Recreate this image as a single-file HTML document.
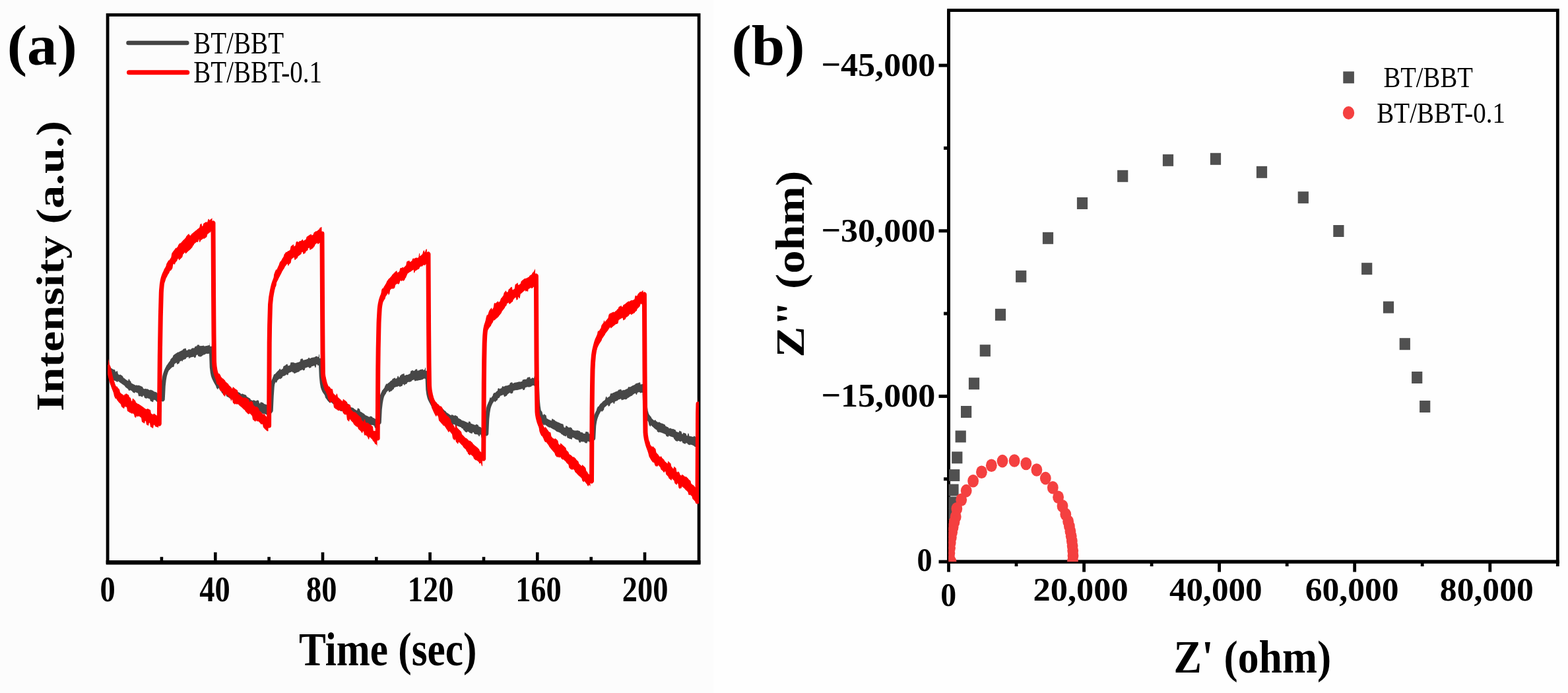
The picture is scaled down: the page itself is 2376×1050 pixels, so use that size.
<!DOCTYPE html>
<html><head><meta charset="utf-8"><title>Figure</title>
<style>html,body{margin:0;padding:0;background:#fff;} svg{display:block;} text{font-family:"Liberation Serif", "Times New Roman", serif;}</style>
</head><body>
<svg width="2376" height="1050" viewBox="0 0 2376 1050">
<rect x="0" y="0" width="2376" height="1050" fill="#fefefe"/>
<rect x="0" y="0" width="1081" height="1050" fill="#fcfcfc"/>
<rect x="163.1" y="22.6" width="896.0" height="829.2" fill="none" stroke="#000" stroke-width="4.8"/>
<line x1="160.7" y1="852.1999999999999" x2="1061.5" y2="852.1999999999999" stroke="#000" stroke-width="6.6"/>
<line x1="244.9" y1="851.8" x2="244.9" y2="843.8" stroke="#000" stroke-width="4.6"/>
<line x1="326.3" y1="851.8" x2="326.3" y2="836.8" stroke="#000" stroke-width="4.6"/>
<line x1="407.6" y1="851.8" x2="407.6" y2="843.8" stroke="#000" stroke-width="4.6"/>
<line x1="489.0" y1="851.8" x2="489.0" y2="836.8" stroke="#000" stroke-width="4.6"/>
<line x1="570.3" y1="851.8" x2="570.3" y2="843.8" stroke="#000" stroke-width="4.6"/>
<line x1="651.6" y1="851.8" x2="651.6" y2="836.8" stroke="#000" stroke-width="4.6"/>
<line x1="733.0" y1="851.8" x2="733.0" y2="843.8" stroke="#000" stroke-width="4.6"/>
<line x1="814.3" y1="851.8" x2="814.3" y2="836.8" stroke="#000" stroke-width="4.6"/>
<line x1="895.7" y1="851.8" x2="895.7" y2="843.8" stroke="#000" stroke-width="4.6"/>
<line x1="977.0" y1="851.8" x2="977.0" y2="836.8" stroke="#000" stroke-width="4.6"/>
<defs><clipPath id="ca"><rect x="163.1" y="22.6" width="896.0" height="829.2"/></clipPath></defs>
<g clip-path="url(#ca)">
<g fill="#474747" stroke="none"><polygon points="164.0,553.8 165.0,554.4 166.0,555.0 167.0,555.6 168.0,557.5 169.0,558.1 170.0,558.7 171.0,559.3 172.0,559.9 173.0,559.7 174.0,560.3 175.0,562.9 176.0,563.5 177.0,561.7 178.0,562.4 179.0,566.8 180.0,567.5 181.0,568.2 182.0,567.2 183.0,567.9 184.0,568.6 185.0,569.3 186.0,570.0 187.0,572.2 188.0,572.9 189.0,573.6 190.0,574.5 191.0,575.2 192.0,575.9 193.0,576.6 194.0,577.3 195.0,574.0 196.0,574.7 197.0,576.9 198.0,577.5 199.0,580.3 200.0,580.9 201.0,581.4 202.0,581.9 203.0,582.4 204.0,582.9 205.0,583.4 206.0,583.9 207.0,583.3 208.0,583.7 209.0,584.2 210.0,583.5 211.0,584.0 212.0,584.4 213.0,584.8 214.0,585.2 215.0,585.7 216.0,586.1 217.0,588.5 218.0,589.0 219.0,589.4 220.0,588.7 221.0,589.1 222.0,589.6 223.0,589.2 224.0,589.6 225.0,590.3 226.0,590.8 227.0,591.2 228.0,590.4 229.0,590.8 230.0,591.2 231.0,591.5 232.0,591.9 233.0,593.1 234.0,593.4 235.0,593.7 236.0,594.0 237.0,594.3 238.0,595.6 239.0,595.8 240.0,596.1 241.0,596.4 242.0,596.6 243.0,595.0 244.0,595.2 245.0,595.5 245.0,612.4 244.0,612.1 243.0,610.6 242.0,610.4 241.0,609.5 240.0,609.3 239.0,609.0 238.0,608.7 237.0,608.5 236.0,606.7 235.0,606.4 234.0,606.1 233.0,605.8 232.0,609.2 231.0,608.9 230.0,608.5 229.0,608.1 228.0,607.7 227.0,604.6 226.0,604.2 225.0,603.8 224.0,603.4 223.0,602.9 222.0,604.1 221.0,603.6 220.0,603.2 219.0,602.7 218.0,599.7 217.0,599.3 216.0,601.6 215.0,601.2 214.0,600.8 213.0,600.3 212.0,599.9 211.0,600.5 210.0,600.1 209.0,595.8 208.0,595.3 207.0,594.9 206.0,594.4 205.0,593.9 204.0,595.7 203.0,595.3 202.0,594.7 201.0,594.2 200.0,592.6 199.0,592.0 198.0,591.5 197.0,590.9 196.0,592.2 195.0,591.6 194.0,589.4 193.0,588.7 192.0,588.0 191.0,587.3 190.0,586.6 189.0,584.7 188.0,584.0 187.0,583.3 186.0,582.5 185.0,581.9 184.0,581.1 183.0,580.4 182.0,579.7 181.0,579.0 180.0,578.2 179.0,577.5 178.0,579.0 177.0,578.4 176.0,577.8 175.0,577.2 174.0,577.1 173.0,576.5 172.0,575.9 171.0,575.3 170.0,573.9 169.0,573.3 168.0,572.7 167.0,572.1 166.0,569.6 165.0,569.0 164.0,568.4"/><polygon points="246.5,596.8 247.5,576.8 248.5,567.5 249.5,563.3 250.5,559.4 251.5,556.5 252.5,554.1 252.9,553.3 253.5,553.4 254.5,551.5 255.5,549.8 256.5,548.3 257.5,547.0 258.5,544.3 258.6,544.2 259.5,543.3 260.5,542.3 261.5,541.4 262.5,538.5 263.5,537.7 264.3,537.1 264.5,537.0 265.5,536.3 266.5,535.6 267.5,534.9 268.5,534.3 269.5,533.6 270.5,533.7 271.5,533.1 272.5,532.5 273.5,532.0 274.5,531.6 275.5,531.1 275.7,531.0 276.5,530.6 277.5,529.0 278.5,528.6 279.5,528.2 280.5,527.9 281.5,527.5 282.5,531.0 283.5,530.7 284.5,530.4 285.5,529.4 286.5,529.1 287.0,529.0 287.5,529.8 288.5,529.5 289.5,529.2 290.5,527.8 291.5,527.6 292.5,527.3 293.5,527.5 294.5,527.3 295.5,525.0 296.5,524.8 297.5,524.6 298.5,524.3 298.6,522.8 299.5,522.6 300.5,522.4 301.5,522.3 302.5,524.3 303.5,524.1 304.5,524.2 305.5,524.1 306.5,523.9 307.5,523.7 308.5,523.5 309.5,524.6 310.0,524.5 310.5,524.4 311.5,524.2 312.5,524.0 313.5,523.9 314.5,523.6 315.5,523.4 316.5,523.1 317.5,522.9 318.0,518.7 318.0,535.8 317.5,535.9 316.5,535.7 315.5,536.0 314.5,536.3 313.5,535.7 312.5,536.0 311.5,536.2 310.5,537.2 310.0,537.3 309.5,537.4 308.5,537.6 307.5,538.5 306.5,538.7 305.5,540.1 304.5,540.3 303.5,540.4 302.5,540.6 301.5,539.8 300.5,540.0 299.5,537.5 298.6,537.6 298.5,537.7 297.5,537.9 296.5,541.6 295.5,541.9 294.5,542.1 293.5,540.5 292.5,540.7 291.5,541.0 290.5,541.1 289.5,541.4 288.5,541.7 287.5,542.0 287.0,543.3 286.5,543.4 285.5,540.8 284.5,541.1 283.5,541.5 282.5,541.8 281.5,543.9 280.5,544.2 279.5,544.6 278.5,544.9 277.5,545.3 276.5,547.4 275.7,547.7 275.5,546.2 274.5,546.7 273.5,547.2 272.5,547.7 271.5,550.4 270.5,551.0 269.5,551.6 268.5,552.3 267.5,549.4 266.5,550.1 265.5,550.8 264.5,551.5 264.3,551.7 263.5,555.4 262.5,556.2 261.5,555.9 260.5,556.8 259.5,557.7 258.6,558.7 258.5,558.5 257.5,559.7 256.5,561.0 255.5,560.2 254.5,561.9 253.5,566.4 252.9,567.6 252.5,568.5 251.5,570.9 250.5,571.9 249.5,575.7 248.5,581.4 247.5,590.7 246.5,610.7"/><polygon points="320.0,519.5 321.0,547.5 322.0,555.9 323.0,560.7 324.0,563.8 325.0,566.0 326.0,567.7 327.0,569.4 328.0,573.2 329.0,574.5 330.0,575.7 331.0,576.0 331.4,576.4 332.0,577.0 333.0,577.9 334.0,578.7 335.0,576.8 336.0,577.6 337.0,580.6 338.0,581.3 339.0,582.0 340.0,582.7 341.0,582.3 342.0,583.0 343.0,583.6 344.0,585.2 345.0,585.8 346.0,586.4 347.0,587.0 348.0,585.3 349.0,585.9 350.0,586.5 350.5,586.8 351.0,590.9 352.0,591.5 353.0,592.1 354.0,592.7 355.0,592.6 356.0,593.1 357.0,593.2 358.0,593.7 359.0,594.2 360.0,593.5 361.0,594.0 362.0,594.5 363.0,595.0 364.0,595.5 365.0,596.7 366.0,597.2 367.0,596.2 368.0,596.7 369.0,597.2 369.5,597.5 370.0,597.6 371.0,598.1 372.0,598.2 373.0,598.7 374.0,601.1 375.0,601.6 376.0,602.1 377.0,602.8 378.0,603.2 379.0,603.7 380.0,605.7 381.0,606.2 382.0,606.6 383.0,607.1 384.0,605.9 385.0,606.4 386.0,606.8 387.0,607.3 388.0,607.7 388.6,606.8 389.0,607.0 390.0,606.2 391.0,606.6 392.0,607.0 393.0,611.1 394.0,611.5 395.0,609.0 396.0,609.4 397.0,609.7 398.0,610.1 399.0,610.5 400.0,611.8 401.0,612.2 402.0,612.6 403.0,612.8 404.0,613.3 405.0,613.8 405.7,614.1 406.0,614.3 407.0,617.1 408.0,617.7 409.0,618.3 409.0,632.1 408.0,630.6 407.0,630.0 406.0,629.4 405.7,629.2 405.0,628.9 404.0,628.4 403.0,627.9 402.0,627.5 401.0,627.1 400.0,626.7 399.0,627.1 398.0,626.7 397.0,626.3 396.0,624.9 395.0,624.5 394.0,625.5 393.0,625.1 392.0,623.6 391.0,623.2 390.0,620.8 389.0,620.4 388.6,620.2 388.0,619.9 387.0,620.4 386.0,619.9 385.0,622.3 384.0,621.8 383.0,620.9 382.0,620.5 381.0,620.0 380.0,619.5 379.0,619.1 378.0,618.1 377.0,617.7 376.0,617.2 375.0,616.7 374.0,615.7 373.0,615.2 372.0,615.0 371.0,614.5 370.0,614.0 369.5,613.7 369.0,613.5 368.0,611.0 367.0,610.5 366.0,610.0 365.0,611.4 364.0,610.9 363.0,610.4 362.0,611.1 361.0,610.6 360.0,608.6 359.0,608.0 358.0,607.5 357.0,608.3 356.0,607.8 355.0,607.2 354.0,606.7 353.0,606.1 352.0,605.8 351.0,605.2 350.5,604.9 350.0,604.7 349.0,604.1 348.0,603.5 347.0,602.6 346.0,602.1 345.0,601.5 344.0,600.9 343.0,600.3 342.0,597.1 341.0,596.5 340.0,595.9 339.0,595.2 338.0,596.7 337.0,596.0 336.0,595.3 335.0,592.4 334.0,591.6 333.0,590.7 332.0,588.7 331.4,588.1 331.0,587.7 330.0,590.2 329.0,589.0 328.0,587.7 327.0,584.5 326.0,582.9 325.0,581.1 324.0,579.3 323.0,576.3 322.0,569.5 321.0,561.1 320.0,533.1"/><polygon points="410.5,612.9 411.5,590.9 412.5,576.7 413.0,572.9 413.5,571.6 414.5,568.8 415.5,566.7 416.5,567.0 417.5,565.8 418.5,564.7 419.0,564.1 419.5,563.5 420.5,562.5 421.5,561.6 422.5,560.8 423.5,559.1 424.5,558.4 425.5,560.4 426.5,559.8 426.7,559.7 427.5,559.2 428.5,558.7 429.5,555.0 430.5,554.5 431.5,554.0 432.5,553.5 433.5,552.3 434.5,551.9 435.5,551.5 436.5,554.6 437.5,554.1 438.5,553.7 439.5,553.3 440.5,549.3 441.5,548.9 442.0,548.7 442.5,549.5 443.5,549.1 444.5,548.8 445.5,550.0 446.5,549.6 447.5,550.3 448.5,549.9 449.5,549.6 450.5,549.3 451.5,549.0 452.5,548.7 453.5,548.3 454.5,548.0 455.5,544.1 456.5,543.8 457.0,543.6 457.5,543.5 458.5,543.2 459.5,545.8 460.5,545.5 461.5,545.2 462.5,545.0 463.5,544.7 464.5,544.4 465.5,544.1 466.5,543.8 467.5,542.0 468.5,541.7 469.5,543.2 470.5,542.9 471.5,542.2 472.0,542.1 472.5,541.9 473.5,541.7 474.5,541.4 475.5,541.4 476.5,541.2 477.5,540.4 478.5,540.1 479.5,539.9 480.5,539.6 481.5,541.1 482.5,540.9 483.5,536.8 484.0,536.7 484.0,555.1 483.5,553.4 482.5,553.6 481.5,553.9 480.5,551.9 479.5,552.2 478.5,556.7 477.5,557.0 476.5,554.1 475.5,554.3 474.5,554.6 473.5,554.9 472.5,555.1 472.0,555.3 471.5,556.9 470.5,557.2 469.5,557.4 468.5,557.7 467.5,556.0 466.5,556.3 465.5,556.6 464.5,557.1 463.5,557.3 462.5,557.6 461.5,560.9 460.5,561.1 459.5,561.4 458.5,559.9 457.5,560.2 457.0,560.7 456.5,560.9 455.5,561.2 454.5,561.5 453.5,563.1 452.5,563.4 451.5,563.8 450.5,564.1 449.5,564.4 448.5,565.0 447.5,565.4 446.5,565.7 445.5,566.1 444.5,564.1 443.5,564.4 442.5,563.1 442.0,563.3 441.5,563.5 440.5,563.9 439.5,564.3 438.5,564.7 437.5,565.1 436.5,568.0 435.5,568.4 434.5,567.2 433.5,567.7 432.5,568.8 431.5,569.3 430.5,569.8 429.5,569.7 428.5,570.2 427.5,572.6 426.7,573.1 426.5,573.2 425.5,573.8 424.5,574.4 423.5,573.8 422.5,574.6 421.5,575.4 420.5,576.2 419.5,579.1 419.0,579.6 418.5,580.1 417.5,578.8 416.5,580.0 415.5,581.6 414.5,582.6 413.5,585.4 413.0,587.2 412.5,590.9 411.5,605.4 410.5,627.4"/><polygon points="486.0,538.1 487.0,562.1 488.0,572.5 489.0,578.1 490.0,581.1 491.0,583.4 492.0,585.2 493.0,585.3 494.0,586.5 495.0,587.7 496.0,588.9 497.0,590.1 498.0,592.4 499.0,593.4 500.0,594.3 501.0,595.2 502.0,597.6 503.0,598.4 504.0,599.2 505.0,599.7 506.0,600.4 507.0,601.2 508.0,599.3 509.0,600.0 510.0,600.7 511.0,601.3 512.0,606.2 513.0,606.9 514.0,607.5 515.0,606.2 516.0,606.8 517.0,607.3 518.0,607.9 519.0,609.9 520.0,610.5 521.0,607.5 522.0,608.0 523.0,608.5 524.0,609.1 525.0,609.6 526.0,611.3 527.0,611.8 528.0,612.3 529.0,612.8 530.0,615.8 531.0,616.3 532.0,616.9 533.0,617.4 534.0,617.5 535.0,618.0 536.0,618.6 537.0,619.8 538.0,620.3 539.0,620.9 540.0,621.4 541.0,621.9 542.0,618.3 543.0,618.8 544.0,619.3 545.0,619.9 546.0,623.6 546.7,623.9 547.0,624.1 548.0,624.6 549.0,625.3 550.0,625.9 551.0,626.4 552.0,627.0 553.0,628.5 554.0,629.1 555.0,629.7 556.0,629.8 557.0,630.4 558.0,630.9 559.0,631.4 560.0,631.8 561.0,630.4 562.0,630.8 563.0,631.1 564.0,631.5 565.0,632.9 566.0,633.2 567.0,633.5 568.0,634.5 569.0,634.7 570.0,634.8 571.0,635.1 572.0,634.3 572.0,646.3 571.0,649.1 570.0,648.8 569.0,648.5 568.0,648.2 567.0,644.9 566.0,644.6 565.0,644.3 564.0,644.0 563.0,643.7 562.0,645.2 561.0,644.8 560.0,644.4 559.0,643.9 558.0,643.4 557.0,641.7 556.0,641.2 555.0,640.7 554.0,642.3 553.0,641.7 552.0,641.2 551.0,641.1 550.0,640.5 549.0,637.4 548.0,636.8 547.0,636.3 546.7,636.1 546.0,635.7 545.0,637.4 544.0,636.8 543.0,635.9 542.0,635.4 541.0,635.2 540.0,634.7 539.0,632.9 538.0,632.3 537.0,632.0 536.0,631.4 535.0,630.9 534.0,630.9 533.0,630.4 532.0,630.8 531.0,630.2 530.0,629.7 529.0,629.1 528.0,628.6 527.0,628.6 526.0,628.1 525.0,627.6 524.0,627.1 523.0,623.0 522.0,622.5 521.0,621.7 520.0,621.2 519.0,620.7 518.0,623.4 517.0,622.9 516.0,622.7 515.0,622.1 514.0,621.5 513.0,620.2 512.0,619.5 511.0,618.9 510.0,618.2 509.0,617.5 508.0,613.8 507.0,613.1 506.0,612.4 505.0,612.2 504.0,611.4 503.0,610.6 502.0,609.8 501.0,608.9 500.0,610.7 499.0,609.8 498.0,608.8 497.0,607.7 496.0,606.6 495.0,604.9 494.0,603.7 493.0,602.4 492.0,598.4 491.0,596.6 490.0,594.3 489.0,592.3 488.0,586.7 487.0,576.3 486.0,552.3"/><polygon points="574.5,633.5 575.5,613.5 576.5,605.1 577.5,597.9 578.5,593.8 579.0,592.3 579.5,590.9 580.5,591.3 581.5,589.4 582.5,587.8 583.5,584.4 584.5,583.2 584.8,582.0 585.5,581.2 586.5,582.0 587.5,581.1 588.5,580.3 589.5,579.5 590.5,578.8 591.5,577.4 592.5,576.8 593.5,576.2 594.0,576.0 594.5,574.3 595.5,573.8 596.5,573.3 597.5,572.8 598.5,572.3 599.5,573.9 600.5,573.5 601.5,573.0 602.5,569.9 603.5,569.5 604.5,571.9 605.5,571.6 606.5,568.8 607.5,568.5 608.5,567.3 609.5,567.0 610.5,566.6 611.5,566.2 612.5,565.8 613.0,569.1 613.5,568.9 614.5,568.5 615.5,568.1 616.5,567.7 617.5,567.9 618.5,567.5 619.5,567.1 620.5,566.4 621.5,566.0 622.5,562.0 623.5,561.7 624.5,561.3 625.5,560.9 626.5,562.1 627.5,561.8 628.5,561.4 629.5,559.8 630.5,559.5 631.5,559.2 632.0,559.1 632.5,561.8 633.5,561.6 634.5,561.3 635.5,561.1 636.5,560.1 637.5,559.9 638.5,559.7 639.5,559.5 640.5,559.3 641.5,560.8 642.5,560.5 643.5,560.3 644.5,557.1 645.0,557.0 645.0,574.1 644.5,574.2 643.5,573.5 642.5,573.7 641.5,573.9 640.5,575.0 639.5,575.2 638.5,575.4 637.5,575.7 636.5,575.9 635.5,576.0 634.5,576.2 633.5,576.5 632.5,576.8 632.0,576.9 631.5,576.6 630.5,576.9 629.5,577.2 628.5,577.5 627.5,575.2 626.5,575.6 625.5,575.9 624.5,576.3 623.5,577.8 622.5,578.2 621.5,578.5 620.5,578.9 619.5,578.5 618.5,578.9 617.5,579.3 616.5,581.4 615.5,581.8 614.5,582.2 613.5,582.6 613.0,583.7 612.5,583.9 611.5,581.8 610.5,582.2 609.5,584.7 608.5,585.0 607.5,585.4 606.5,585.8 605.5,586.2 604.5,584.8 603.5,585.2 602.5,585.7 601.5,586.1 600.5,585.9 599.5,586.4 598.5,586.8 597.5,587.3 596.5,589.8 595.5,590.3 594.5,590.9 594.0,592.1 593.5,592.4 592.5,592.6 591.5,593.2 590.5,593.8 589.5,594.5 588.5,591.6 587.5,592.4 586.5,593.3 585.5,594.3 584.8,596.4 584.5,596.7 583.5,597.9 582.5,599.2 581.5,600.8 580.5,603.2 579.5,605.5 579.0,606.8 578.5,607.8 577.5,611.9 576.5,617.9 575.5,626.3 574.5,646.3"/><polygon points="647.5,558.0 648.5,583.0 649.5,590.4 650.5,594.6 651.0,596.0 651.5,596.5 652.5,598.7 653.5,600.5 654.5,602.7 655.5,604.0 656.5,605.2 657.0,605.9 657.5,607.9 658.5,609.1 659.5,610.2 660.5,610.6 661.5,611.6 662.5,612.6 663.5,613.6 664.5,614.5 665.5,615.8 666.5,616.7 667.5,617.5 668.5,618.3 669.5,618.4 670.5,619.2 671.5,620.0 672.5,620.7 673.5,621.9 674.5,622.6 675.5,623.3 676.5,624.8 677.5,625.5 678.5,626.1 679.5,626.8 680.5,627.4 681.5,628.2 682.5,628.8 683.5,629.4 684.5,627.9 685.5,628.4 686.5,629.0 687.5,629.5 688.5,630.1 689.5,629.0 690.5,629.5 691.5,630.0 692.5,630.5 693.5,631.0 694.5,633.6 695.5,634.1 696.5,634.5 697.5,635.0 698.5,635.4 699.5,636.7 700.5,637.1 701.5,637.5 702.5,637.5 703.5,637.9 704.5,638.4 705.5,638.9 706.5,639.3 707.5,639.9 708.5,640.3 708.6,640.4 709.5,640.7 710.5,638.3 711.5,638.7 712.5,639.0 713.5,641.6 714.5,642.0 715.5,642.3 716.5,642.7 717.5,643.0 718.5,643.4 719.5,643.7 720.5,644.0 721.5,642.7 722.5,643.1 723.5,643.4 724.5,643.8 725.5,646.2 725.7,646.3 726.5,646.6 727.5,646.9 728.5,647.3 729.5,648.4 730.5,648.7 731.5,649.1 732.5,649.5 733.5,650.0 734.5,650.4 735.0,650.6 735.0,665.2 734.5,665.0 733.5,664.7 732.5,664.4 731.5,664.1 730.5,663.7 729.5,663.3 728.5,658.6 727.5,658.2 726.5,661.3 725.7,661.0 725.5,660.9 724.5,658.8 723.5,658.4 722.5,658.1 721.5,658.3 720.5,658.0 719.5,657.7 718.5,657.3 717.5,655.1 716.5,654.8 715.5,657.1 714.5,656.7 713.5,656.4 712.5,656.0 711.5,655.7 710.5,654.5 709.5,654.2 708.6,653.8 708.5,653.8 707.5,655.3 706.5,654.9 705.5,654.5 704.5,654.1 703.5,652.3 702.5,651.9 701.5,649.6 700.5,649.2 699.5,648.8 698.5,647.3 697.5,646.9 696.5,646.8 695.5,646.3 694.5,645.9 693.5,645.4 692.5,644.9 691.5,648.2 690.5,647.7 689.5,643.7 688.5,643.2 687.5,642.6 686.5,644.8 685.5,644.3 684.5,643.7 683.5,644.0 682.5,643.4 681.5,642.8 680.5,642.2 679.5,641.6 678.5,640.7 677.5,640.1 676.5,639.4 675.5,638.7 674.5,638.0 673.5,633.2 672.5,632.5 671.5,631.8 670.5,631.0 669.5,630.2 668.5,633.7 667.5,632.9 666.5,632.0 665.5,631.2 664.5,630.3 663.5,628.2 662.5,627.3 661.5,626.2 660.5,625.2 659.5,624.1 658.5,620.4 657.5,619.2 657.0,621.7 656.5,621.1 655.5,619.9 654.5,618.5 653.5,615.2 652.5,613.4 651.5,611.2 651.0,609.9 650.5,608.4 649.5,604.0 648.5,596.7 647.5,571.7"/><polygon points="737.0,649.9 738.0,627.9 739.0,618.4 740.0,612.0 740.6,609.6 741.0,608.3 742.0,603.8 743.0,601.5 744.0,603.7 745.0,602.1 746.0,600.7 746.7,599.8 747.0,597.4 748.0,596.1 749.0,594.8 750.0,595.5 751.0,594.5 752.0,593.5 753.0,592.6 754.0,591.9 754.3,589.1 755.0,588.6 756.0,588.0 757.0,589.4 758.0,588.8 759.0,588.4 760.0,587.9 761.0,585.4 762.0,584.9 763.0,585.9 764.0,585.5 765.0,585.1 766.0,584.6 767.0,584.2 768.0,584.5 769.0,584.1 770.0,583.7 771.0,583.3 772.0,582.9 773.0,580.1 774.0,579.8 775.0,579.4 776.0,579.1 777.0,581.1 778.0,580.8 779.0,580.0 780.0,579.7 781.0,579.5 782.0,579.6 783.0,579.3 784.0,579.1 785.0,578.7 786.0,578.4 787.0,578.2 788.0,578.6 789.0,578.4 790.0,578.1 791.0,577.9 792.0,575.4 792.4,575.3 793.0,575.2 794.0,574.9 795.0,574.6 796.0,574.9 797.0,574.6 798.0,574.4 799.0,572.1 800.0,571.8 801.0,571.6 802.0,571.4 803.0,571.1 804.0,574.0 805.0,573.7 806.0,572.6 807.0,572.3 807.6,572.2 808.0,573.1 809.0,572.9 810.0,569.5 811.0,569.3 812.0,569.0 812.0,584.1 811.0,585.3 810.0,585.5 809.0,583.9 808.0,584.1 807.6,584.2 807.0,584.3 806.0,584.6 805.0,585.7 804.0,586.0 803.0,586.3 802.0,586.5 801.0,586.8 800.0,586.1 799.0,586.4 798.0,586.6 797.0,586.9 796.0,587.2 795.0,590.6 794.0,590.8 793.0,591.1 792.4,591.2 792.0,589.0 791.0,589.2 790.0,589.5 789.0,589.7 788.0,589.9 787.0,590.2 786.0,590.4 785.0,590.7 784.0,590.9 783.0,591.2 782.0,591.0 781.0,591.2 780.0,591.5 779.0,591.8 778.0,592.1 777.0,595.6 776.0,595.9 775.0,596.3 774.0,596.6 773.0,595.0 772.0,595.4 771.0,595.8 770.0,597.0 769.0,597.4 768.0,599.6 767.0,600.0 766.0,600.4 765.0,600.9 764.0,601.3 763.0,597.9 762.0,598.4 761.0,598.8 760.0,599.3 759.0,599.4 758.0,599.9 757.0,602.3 756.0,602.9 755.0,603.5 754.3,603.9 754.0,605.9 753.0,606.7 752.0,607.6 751.0,608.5 750.0,609.6 749.0,607.2 748.0,608.4 747.0,609.7 746.7,610.1 746.0,611.1 745.0,613.2 744.0,614.8 743.0,616.6 742.0,618.8 741.0,624.8 740.6,626.1 740.0,627.6 739.0,633.7 738.0,643.2 737.0,665.2"/><polygon points="813.5,569.0 814.5,596.0 815.5,609.2 816.5,615.4 817.5,619.3 818.5,622.2 819.5,621.5 819.7,621.8 820.5,622.8 821.5,624.0 822.5,628.2 823.5,629.1 824.5,627.1 825.5,627.9 826.5,628.7 827.5,629.3 828.5,634.0 829.5,634.6 830.5,635.1 831.5,635.7 832.5,636.1 833.5,636.7 834.5,636.8 835.5,637.4 835.7,637.5 836.5,634.3 837.5,634.8 838.5,635.4 839.5,636.0 840.5,636.5 841.5,637.8 842.5,638.3 843.5,638.8 844.5,639.3 845.5,639.8 846.5,640.1 847.5,640.6 848.5,641.1 849.5,641.5 850.5,642.0 851.5,641.9 852.5,642.4 853.5,642.8 854.5,647.3 855.5,647.7 856.5,648.1 857.5,644.9 858.5,645.3 858.6,645.4 859.5,645.7 860.5,647.1 861.5,647.5 862.5,647.9 863.5,647.2 864.5,647.6 865.5,648.1 866.5,648.5 867.5,651.1 868.5,651.5 869.5,651.9 870.5,652.2 871.5,652.6 872.5,652.3 873.5,652.6 874.5,651.9 875.5,652.2 876.5,652.5 877.5,652.8 878.5,653.1 879.5,654.8 880.5,655.0 881.4,655.2 881.5,654.9 882.5,655.1 883.5,656.6 884.5,656.8 885.5,656.9 886.5,657.1 887.5,654.0 888.5,654.1 889.5,654.3 890.5,654.4 891.5,654.5 892.5,657.3 893.5,657.4 894.5,657.8 895.5,657.9 896.5,656.7 897.0,656.8 897.0,670.5 896.5,670.4 895.5,669.8 894.5,669.7 893.5,669.5 892.5,669.4 891.5,668.8 890.5,668.7 889.5,671.6 888.5,671.4 887.5,671.3 886.5,671.2 885.5,669.6 884.5,669.5 883.5,669.3 882.5,669.4 881.5,669.3 881.4,669.3 880.5,669.1 879.5,670.7 878.5,670.5 877.5,670.2 876.5,666.7 875.5,666.4 874.5,666.2 873.5,665.9 872.5,665.6 871.5,665.2 870.5,664.0 869.5,663.6 868.5,663.2 867.5,662.8 866.5,666.0 865.5,665.5 864.5,665.1 863.5,664.9 862.5,664.5 861.5,664.1 860.5,663.7 859.5,663.3 858.6,659.5 858.5,659.4 857.5,661.4 856.5,661.0 855.5,660.6 854.5,660.2 853.5,659.7 852.5,658.7 851.5,658.2 850.5,657.8 849.5,656.2 848.5,655.8 847.5,655.3 846.5,654.8 845.5,654.4 844.5,654.2 843.5,653.7 842.5,653.2 841.5,651.9 840.5,651.4 839.5,650.8 838.5,650.4 837.5,649.9 836.5,649.3 835.7,648.9 835.5,648.8 834.5,648.2 833.5,647.6 832.5,647.9 831.5,647.3 830.5,646.8 829.5,646.3 828.5,645.3 827.5,644.7 826.5,644.0 825.5,643.3 824.5,644.6 823.5,643.7 822.5,642.6 821.5,641.5 820.5,640.3 819.7,637.8 819.5,637.5 818.5,635.6 817.5,631.6 816.5,627.8 815.5,621.6 814.5,610.8 813.5,583.8"/><polygon points="899.0,658.1 900.0,639.1 901.0,633.4 902.0,629.0 903.0,625.9 904.0,623.5 904.3,619.4 905.0,617.9 906.0,615.9 907.0,615.9 908.0,614.2 909.0,612.7 910.0,611.4 911.0,611.1 912.0,609.9 913.0,608.8 914.0,607.8 915.0,607.3 915.7,606.7 916.0,606.4 917.0,605.5 918.0,601.4 919.0,600.6 920.0,603.1 921.0,602.3 922.0,601.6 923.0,601.0 924.0,600.3 925.0,596.5 926.0,596.0 927.0,596.2 928.0,595.7 929.0,595.3 930.0,594.8 931.0,594.4 932.0,593.8 933.0,593.4 934.0,593.1 935.0,592.7 936.0,592.4 937.0,590.8 938.0,590.5 939.0,590.2 940.0,589.9 941.0,589.6 942.0,591.8 943.0,591.5 944.0,591.2 945.0,590.8 946.0,591.0 947.0,590.7 948.0,589.9 949.0,589.5 950.0,589.2 951.0,588.8 952.0,586.4 953.0,586.0 954.0,586.6 955.0,586.2 956.0,585.8 957.0,585.3 958.0,584.5 959.0,584.1 960.0,583.7 961.0,583.3 962.0,582.8 963.0,581.5 964.0,581.1 965.0,580.7 966.0,580.5 967.0,580.2 968.0,579.8 969.0,579.5 970.0,579.2 970.6,582.5 971.0,582.4 972.0,582.2 973.0,581.9 974.0,581.7 975.0,580.2 975.0,594.9 974.0,595.1 973.0,594.9 972.0,595.1 971.0,595.3 970.6,595.4 970.0,595.6 969.0,594.0 968.0,594.3 967.0,594.6 966.0,595.0 965.0,597.8 964.0,598.2 963.0,595.8 962.0,596.2 961.0,596.6 960.0,597.5 959.0,598.0 958.0,599.4 957.0,599.8 956.0,600.3 955.0,600.8 954.0,601.2 953.0,602.3 952.0,602.7 951.0,603.1 950.0,604.6 949.0,605.0 948.0,605.4 947.0,604.8 946.0,605.1 945.0,605.4 944.0,605.8 943.0,606.1 942.0,606.4 941.0,604.3 940.0,604.6 939.0,604.9 938.0,605.2 937.0,605.5 936.0,606.8 935.0,607.2 934.0,607.5 933.0,607.9 932.0,608.2 931.0,611.5 930.0,611.9 929.0,609.4 928.0,609.9 927.0,610.3 926.0,611.2 925.0,611.7 924.0,614.7 923.0,615.3 922.0,616.0 921.0,613.3 920.0,614.1 919.0,614.8 918.0,615.7 917.0,616.5 916.0,617.4 915.7,617.6 915.0,620.9 914.0,621.9 913.0,622.9 912.0,624.0 911.0,622.3 910.0,623.6 909.0,624.9 908.0,626.4 907.0,628.1 906.0,631.9 905.0,633.9 904.3,633.6 904.0,634.2 903.0,636.6 902.0,641.2 901.0,645.6 900.0,652.0 899.0,671.0"/><polygon points="976.5,579.4 977.5,607.4 978.5,614.8 979.5,618.9 980.0,621.3 980.5,622.6 981.5,624.9 982.5,626.7 983.5,628.2 984.3,629.0 984.5,629.3 985.5,630.5 986.5,631.6 987.5,633.8 988.5,634.8 989.5,635.7 990.5,636.5 991.5,637.3 992.5,636.1 993.5,636.8 994.5,638.2 995.5,638.8 995.7,639.0 996.5,639.4 997.5,640.0 998.5,639.3 999.5,639.8 1000.5,640.4 1001.5,640.9 1002.5,641.4 1003.5,641.5 1004.5,642.0 1005.5,642.4 1006.5,642.9 1007.5,643.3 1008.5,645.6 1009.5,646.0 1010.5,646.4 1011.5,646.9 1012.5,647.3 1013.5,648.8 1014.5,649.2 1015.5,648.6 1016.5,649.0 1017.5,649.4 1018.5,649.9 1018.6,649.9 1019.5,649.7 1020.5,650.1 1021.5,650.5 1022.5,650.9 1023.5,651.3 1024.5,653.8 1025.5,654.2 1026.5,654.4 1027.5,654.9 1028.5,655.3 1029.5,652.6 1030.5,653.0 1031.5,653.4 1032.5,653.8 1033.5,657.4 1034.5,657.8 1035.5,655.5 1036.5,655.9 1037.5,656.2 1038.5,656.6 1039.5,657.0 1040.5,660.1 1041.4,660.4 1041.5,660.4 1042.5,656.5 1043.5,656.8 1044.5,660.7 1045.5,661.0 1046.5,660.9 1047.5,661.2 1048.5,661.5 1049.5,661.8 1050.5,662.1 1051.5,660.6 1052.5,660.9 1053.5,661.2 1054.5,664.3 1055.5,664.6 1056.0,664.7 1056.0,676.3 1055.5,676.2 1054.5,677.3 1053.5,676.9 1052.5,676.7 1051.5,675.6 1050.5,675.3 1049.5,674.5 1048.5,674.2 1047.5,673.9 1046.5,673.6 1045.5,674.4 1044.5,674.1 1043.5,673.7 1042.5,673.4 1041.5,671.7 1041.4,671.7 1040.5,671.4 1039.5,671.0 1038.5,672.7 1037.5,672.4 1036.5,672.0 1035.5,671.6 1034.5,671.2 1033.5,668.7 1032.5,668.3 1031.5,669.3 1030.5,668.9 1029.5,668.5 1028.5,668.1 1027.5,667.7 1026.5,669.1 1025.5,668.6 1024.5,668.2 1023.5,667.8 1022.5,665.9 1021.5,665.5 1020.5,662.8 1019.5,662.4 1018.6,662.0 1018.5,662.0 1017.5,661.8 1016.5,661.4 1015.5,661.0 1014.5,660.6 1013.5,660.2 1012.5,662.0 1011.5,661.6 1010.5,661.2 1009.5,660.8 1008.5,658.1 1007.5,657.7 1006.5,657.3 1005.5,656.8 1004.5,656.4 1003.5,656.1 1002.5,655.6 1001.5,655.6 1000.5,655.1 999.5,654.6 998.5,655.4 997.5,654.8 996.5,654.2 995.7,653.7 995.5,651.8 994.5,651.2 993.5,650.5 992.5,649.8 991.5,649.0 990.5,648.0 989.5,647.1 988.5,646.2 987.5,645.2 986.5,644.2 985.5,646.4 984.5,645.2 984.3,645.0 983.5,643.9 982.5,639.2 981.5,637.3 980.5,635.0 980.0,633.7 979.5,634.2 978.5,630.1 977.5,622.7 976.5,594.7"/></g>
<polyline points="164.0,563.0 165.0,563.6 166.0,564.2 167.0,564.8 168.0,565.4 169.0,566.0 170.0,566.5 171.0,567.1 172.0,567.7 173.0,568.3 174.0,568.9 175.0,569.5 176.0,570.1 177.0,570.7 178.0,571.4 179.0,572.0 180.0,572.6 181.0,573.3 182.0,574.0 183.0,574.7 184.0,575.4 185.0,576.1 186.0,576.9 187.0,577.6 188.0,578.3 189.0,579.0 190.0,579.8 191.0,580.5 192.0,581.2 193.0,581.9 194.0,582.5 195.0,583.2 196.0,583.8 197.0,584.4 198.0,585.0 199.0,585.6 200.0,586.1 201.0,586.6 202.0,587.1 203.0,587.6 204.0,588.1 205.0,588.6 206.0,589.1 207.0,589.6 208.0,590.0 209.0,590.5 210.0,590.9 211.0,591.4 212.0,591.8 213.0,592.2 214.0,592.7 215.0,593.1 216.0,593.6 217.0,594.0 218.0,594.4 219.0,594.9 220.0,595.3 221.0,595.8 222.0,596.2 223.0,596.7 224.0,597.1 225.0,597.5 226.0,598.0 227.0,598.4 228.0,598.8 229.0,599.2 230.0,599.6 231.0,600.0 232.0,600.3 233.0,600.7 234.0,601.0 235.0,601.3 236.0,601.6 237.0,601.9 238.0,602.2 239.0,602.4 240.0,602.7 241.0,603.0 242.0,603.2 243.0,603.5 244.0,603.7 245.0,604.0 246.5,605.0 247.5,585.0 248.5,575.7 249.5,570.0 250.5,566.2 251.5,563.2 252.5,560.9 252.9,560.0 253.5,558.8 254.5,556.9 255.5,555.2 256.5,553.7 257.5,552.3 258.5,551.1 258.6,551.0 259.5,550.0 260.5,549.1 261.5,548.2 262.5,547.4 263.5,546.6 264.3,546.0 264.5,545.9 265.5,545.1 266.5,544.4 267.5,543.7 268.5,543.1 269.5,542.4 270.5,541.8 271.5,541.2 272.5,540.6 273.5,540.1 274.5,539.6 275.5,539.1 275.7,539.0 276.5,538.6 277.5,538.2 278.5,537.8 279.5,537.4 280.5,537.1 281.5,536.7 282.5,536.4 283.5,536.1 284.5,535.8 285.5,535.5 286.5,535.1 287.0,535.0 287.5,534.9 288.5,534.6 289.5,534.3 290.5,534.0 291.5,533.7 292.5,533.4 293.5,533.2 294.5,532.9 295.5,532.7 296.5,532.5 297.5,532.2 298.5,532.0 298.6,532.0 299.5,531.8 300.5,531.6 301.5,531.5 302.5,531.3 303.5,531.1 304.5,531.0 305.5,530.8 306.5,530.6 307.5,530.5 308.5,530.3 309.5,530.1 310.0,530.0 310.5,529.9 311.5,529.7 312.5,529.4 313.5,529.2 314.5,528.9 315.5,528.6 316.5,528.4 317.5,528.1 318.0,528.0 320.0,528.0 321.0,556.0 322.0,564.4 323.0,569.0 324.0,572.0 325.0,574.2 326.0,576.0 327.0,577.6 328.0,579.1 329.0,580.4 330.0,581.6 331.0,582.6 331.4,583.0 332.0,583.6 333.0,584.5 334.0,585.3 335.0,586.1 336.0,586.9 337.0,587.7 338.0,588.4 339.0,589.1 340.0,589.7 341.0,590.4 342.0,591.0 343.0,591.6 344.0,592.2 345.0,592.8 346.0,593.4 347.0,594.0 348.0,594.5 349.0,595.1 350.0,595.7 350.5,596.0 351.0,596.3 352.0,596.9 353.0,597.5 354.0,598.0 355.0,598.6 356.0,599.1 357.0,599.7 358.0,600.2 359.0,600.7 360.0,601.2 361.0,601.7 362.0,602.3 363.0,602.8 364.0,603.3 365.0,603.8 366.0,604.3 367.0,604.8 368.0,605.3 369.0,605.8 369.5,606.0 370.0,606.2 371.0,606.7 372.0,607.2 373.0,607.7 374.0,608.2 375.0,608.7 376.0,609.2 377.0,609.7 378.0,610.1 379.0,610.6 380.0,611.1 381.0,611.6 382.0,612.0 383.0,612.5 384.0,612.9 385.0,613.4 386.0,613.8 387.0,614.3 388.0,614.7 388.6,615.0 389.0,615.2 390.0,615.6 391.0,616.0 392.0,616.4 393.0,616.8 394.0,617.2 395.0,617.5 396.0,617.9 397.0,618.3 398.0,618.7 399.0,619.1 400.0,619.4 401.0,619.9 402.0,620.3 403.0,620.7 404.0,621.2 405.0,621.6 405.7,622.0 406.0,622.2 407.0,622.7 408.0,623.4 409.0,624.0 410.5,622.0 411.5,600.0 412.5,585.7 413.0,582.0 413.5,580.3 414.5,577.4 415.5,575.4 416.5,573.8 417.5,572.6 418.5,571.5 419.0,571.0 419.5,570.5 420.5,569.5 421.5,568.6 422.5,567.8 423.5,567.0 424.5,566.4 425.5,565.7 426.5,565.1 426.7,565.0 427.5,564.5 428.5,564.0 429.5,563.4 430.5,562.9 431.5,562.4 432.5,561.9 433.5,561.5 434.5,561.0 435.5,560.6 436.5,560.2 437.5,559.8 438.5,559.4 439.5,559.0 440.5,558.6 441.5,558.2 442.0,558.0 442.5,557.8 443.5,557.4 444.5,557.1 445.5,556.7 446.5,556.4 447.5,556.0 448.5,555.7 449.5,555.3 450.5,555.0 451.5,554.7 452.5,554.4 453.5,554.1 454.5,553.8 455.5,553.4 456.5,553.1 457.0,553.0 457.5,552.9 458.5,552.6 459.5,552.3 460.5,552.0 461.5,551.7 462.5,551.5 463.5,551.2 464.5,550.9 465.5,550.7 466.5,550.4 467.5,550.2 468.5,549.9 469.5,549.6 470.5,549.4 471.5,549.1 472.0,549.0 472.5,548.9 473.5,548.6 474.5,548.4 475.5,548.1 476.5,547.9 477.5,547.6 478.5,547.4 479.5,547.1 480.5,546.9 481.5,546.6 482.5,546.4 483.5,546.1 484.0,546.0 486.0,546.0 487.0,570.0 488.0,580.3 489.0,586.0 490.0,589.0 491.0,591.3 492.0,593.1 493.0,594.5 494.0,595.8 495.0,597.0 496.0,598.2 497.0,599.3 498.0,600.4 499.0,601.4 500.0,602.4 501.0,603.3 502.0,604.1 503.0,605.0 504.0,605.7 505.0,606.5 506.0,607.2 507.0,607.9 508.0,608.6 509.0,609.3 510.0,610.0 511.0,610.7 512.0,611.3 513.0,611.9 514.0,612.5 515.0,613.1 516.0,613.7 517.0,614.2 518.0,614.8 519.0,615.3 520.0,615.8 521.0,616.4 522.0,616.9 523.0,617.4 524.0,617.9 525.0,618.4 526.0,618.9 527.0,619.4 528.0,619.9 529.0,620.5 530.0,621.0 531.0,621.5 532.0,622.1 533.0,622.6 534.0,623.2 535.0,623.7 536.0,624.3 537.0,624.8 538.0,625.3 539.0,625.9 540.0,626.4 541.0,627.0 542.0,627.5 543.0,628.0 544.0,628.6 545.0,629.1 546.0,629.6 546.7,630.0 547.0,630.2 548.0,630.7 549.0,631.3 550.0,631.8 551.0,632.4 552.0,633.0 553.0,633.5 554.0,634.1 555.0,634.7 556.0,635.2 557.0,635.7 558.0,636.2 559.0,636.7 560.0,637.2 561.0,637.6 562.0,638.0 563.0,638.4 564.0,638.7 565.0,639.0 566.0,639.3 567.0,639.6 568.0,639.9 569.0,640.1 570.0,640.4 571.0,640.7 572.0,641.0 574.5,640.0 575.5,620.0 576.5,611.5 577.5,605.6 578.5,601.5 579.0,600.0 579.5,598.7 580.5,596.4 581.5,594.5 582.5,592.9 583.5,591.5 584.5,590.3 584.8,590.0 585.5,589.3 586.5,588.3 587.5,587.4 588.5,586.6 589.5,585.8 590.5,585.1 591.5,584.5 592.5,583.9 593.5,583.3 594.0,583.0 594.5,582.7 595.5,582.2 596.5,581.7 597.5,581.2 598.5,580.7 599.5,580.3 600.5,579.8 601.5,579.4 602.5,579.0 603.5,578.6 604.5,578.2 605.5,577.8 606.5,577.5 607.5,577.1 608.5,576.7 609.5,576.3 610.5,576.0 611.5,575.6 612.5,575.2 613.0,575.0 613.5,574.8 614.5,574.4 615.5,574.0 616.5,573.6 617.5,573.2 618.5,572.8 619.5,572.4 620.5,572.0 621.5,571.6 622.5,571.2 623.5,570.8 624.5,570.5 625.5,570.1 626.5,569.8 627.5,569.4 628.5,569.1 629.5,568.7 630.5,568.4 631.5,568.1 632.0,568.0 632.5,567.9 633.5,567.6 634.5,567.3 635.5,567.1 636.5,566.9 637.5,566.6 638.5,566.4 639.5,566.2 640.5,566.0 641.5,565.8 642.5,565.6 643.5,565.3 644.5,565.1 645.0,565.0 647.5,565.0 648.5,590.0 649.5,597.3 650.5,601.5 651.0,603.0 651.5,604.3 652.5,606.5 653.5,608.3 654.5,609.8 655.5,611.1 656.5,612.4 657.0,613.0 657.5,613.6 658.5,614.8 659.5,616.0 660.5,617.1 661.5,618.1 662.5,619.1 663.5,620.1 664.5,621.0 665.5,621.9 666.5,622.8 667.5,623.6 668.5,624.4 669.5,625.2 670.5,626.0 671.5,626.8 672.5,627.5 673.5,628.2 674.5,628.9 675.5,629.6 676.5,630.3 677.5,631.0 678.5,631.6 679.5,632.3 680.5,632.9 681.5,633.5 682.5,634.1 683.5,634.7 684.5,635.3 685.5,635.8 686.5,636.4 687.5,636.9 688.5,637.5 689.5,638.0 690.5,638.5 691.5,639.0 692.5,639.5 693.5,640.0 694.5,640.5 695.5,641.0 696.5,641.4 697.5,641.9 698.5,642.3 699.5,642.8 700.5,643.2 701.5,643.6 702.5,644.0 703.5,644.5 704.5,644.9 705.5,645.3 706.5,645.7 707.5,646.1 708.5,646.5 708.6,646.5 709.5,646.8 710.5,647.2 711.5,647.6 712.5,648.0 713.5,648.3 714.5,648.7 715.5,649.0 716.5,649.3 717.5,649.7 718.5,650.0 719.5,650.3 720.5,650.7 721.5,651.0 722.5,651.4 723.5,651.7 724.5,652.1 725.5,652.4 725.7,652.5 726.5,652.8 727.5,653.2 728.5,653.5 729.5,653.9 730.5,654.3 731.5,654.7 732.5,655.1 733.5,655.4 734.5,655.8 735.0,656.0 737.0,657.0 738.0,635.0 739.0,625.5 740.0,619.4 740.6,617.0 741.0,615.7 742.0,613.0 743.0,610.8 744.0,608.9 745.0,607.4 746.0,606.0 746.7,605.0 747.0,604.6 748.0,603.3 749.0,602.0 750.0,600.9 751.0,599.8 752.0,598.9 753.0,598.0 754.0,597.2 754.3,597.0 755.0,596.5 756.0,595.9 757.0,595.4 758.0,594.8 759.0,594.4 760.0,593.9 761.0,593.5 762.0,593.0 763.0,592.5 764.0,592.1 765.0,591.6 766.0,591.2 767.0,590.8 768.0,590.4 769.0,589.9 770.0,589.5 771.0,589.1 772.0,588.7 773.0,588.4 774.0,588.0 775.0,587.7 776.0,587.3 777.0,587.0 778.0,586.7 779.0,586.4 780.0,586.1 781.0,585.8 782.0,585.6 783.0,585.3 784.0,585.1 785.0,584.8 786.0,584.6 787.0,584.3 788.0,584.1 789.0,583.9 790.0,583.6 791.0,583.4 792.0,583.1 792.4,583.0 793.0,582.8 794.0,582.6 795.0,582.3 796.0,582.0 797.0,581.8 798.0,581.5 799.0,581.2 800.0,581.0 801.0,580.7 802.0,580.4 803.0,580.2 804.0,579.9 805.0,579.6 806.0,579.4 807.0,579.1 807.6,579.0 808.0,578.9 809.0,578.7 810.0,578.4 811.0,578.2 812.0,578.0 813.5,578.0 814.5,605.0 815.5,615.8 816.5,622.0 817.5,625.9 818.5,628.8 819.5,630.7 819.7,631.0 820.5,632.0 821.5,633.2 822.5,634.3 823.5,635.3 824.5,636.2 825.5,637.0 826.5,637.7 827.5,638.4 828.5,639.0 829.5,639.6 830.5,640.2 831.5,640.7 832.5,641.2 833.5,641.8 834.5,642.3 835.5,642.9 835.7,643.0 836.5,643.5 837.5,644.0 838.5,644.6 839.5,645.2 840.5,645.7 841.5,646.2 842.5,646.8 843.5,647.3 844.5,647.8 845.5,648.2 846.5,648.7 847.5,649.2 848.5,649.7 849.5,650.1 850.5,650.6 851.5,651.0 852.5,651.5 853.5,651.9 854.5,652.3 855.5,652.7 856.5,653.1 857.5,653.6 858.5,654.0 858.6,654.0 859.5,654.4 860.5,654.8 861.5,655.2 862.5,655.6 863.5,656.0 864.5,656.4 865.5,656.8 866.5,657.3 867.5,657.7 868.5,658.1 869.5,658.4 870.5,658.8 871.5,659.2 872.5,659.5 873.5,659.9 874.5,660.2 875.5,660.5 876.5,660.8 877.5,661.1 878.5,661.4 879.5,661.6 880.5,661.8 881.4,662.0 881.5,662.0 882.5,662.2 883.5,662.4 884.5,662.5 885.5,662.6 886.5,662.8 887.5,662.9 888.5,663.0 889.5,663.1 890.5,663.3 891.5,663.4 892.5,663.5 893.5,663.6 894.5,663.7 895.5,663.8 896.5,663.9 897.0,664.0 899.0,664.0 900.0,645.0 901.0,638.6 902.0,634.2 903.0,631.1 904.0,628.7 904.3,628.0 905.0,626.5 906.0,624.5 907.0,622.7 908.0,621.0 909.0,619.5 910.0,618.2 911.0,616.9 912.0,615.7 913.0,614.7 914.0,613.6 915.0,612.7 915.7,612.0 916.0,611.7 917.0,610.8 918.0,609.9 919.0,609.1 920.0,608.3 921.0,607.6 922.0,606.9 923.0,606.2 924.0,605.6 925.0,605.0 926.0,604.5 927.0,604.0 928.0,603.5 929.0,603.1 930.0,602.7 931.0,602.2 932.0,601.9 933.0,601.5 934.0,601.1 935.0,600.8 936.0,600.5 937.0,600.1 938.0,599.8 939.0,599.5 940.0,599.2 941.0,598.9 942.0,598.6 943.0,598.3 944.0,598.0 945.0,597.7 946.0,597.4 947.0,597.0 948.0,596.7 949.0,596.4 950.0,596.0 951.0,595.6 952.0,595.2 953.0,594.8 954.0,594.4 955.0,594.0 956.0,593.6 957.0,593.2 958.0,592.7 959.0,592.3 960.0,591.9 961.0,591.5 962.0,591.0 963.0,590.6 964.0,590.2 965.0,589.9 966.0,589.5 967.0,589.1 968.0,588.8 969.0,588.5 970.0,588.2 970.6,588.0 971.0,587.9 972.0,587.7 973.0,587.4 974.0,587.2 975.0,587.0 976.5,587.0 977.5,615.0 978.5,622.4 979.5,626.5 980.0,628.0 980.5,629.4 981.5,631.6 982.5,633.5 983.5,635.0 984.3,636.0 984.5,636.3 985.5,637.4 986.5,638.6 987.5,639.6 988.5,640.6 989.5,641.5 990.5,642.3 991.5,643.1 992.5,643.9 993.5,644.6 994.5,645.2 995.5,645.9 995.7,646.0 996.5,646.5 997.5,647.1 998.5,647.7 999.5,648.2 1000.5,648.7 1001.5,649.2 1002.5,649.7 1003.5,650.2 1004.5,650.7 1005.5,651.1 1006.5,651.5 1007.5,652.0 1008.5,652.4 1009.5,652.8 1010.5,653.2 1011.5,653.6 1012.5,654.0 1013.5,654.4 1014.5,654.8 1015.5,655.2 1016.5,655.6 1017.5,656.0 1018.5,656.5 1018.6,656.5 1019.5,656.9 1020.5,657.3 1021.5,657.7 1022.5,658.1 1023.5,658.6 1024.5,659.0 1025.5,659.4 1026.5,659.8 1027.5,660.2 1028.5,660.6 1029.5,661.0 1030.5,661.4 1031.5,661.8 1032.5,662.2 1033.5,662.6 1034.5,663.0 1035.5,663.4 1036.5,663.7 1037.5,664.1 1038.5,664.5 1039.5,664.8 1040.5,665.2 1041.4,665.5 1041.5,665.5 1042.5,665.9 1043.5,666.2 1044.5,666.5 1045.5,666.8 1046.5,667.1 1047.5,667.5 1048.5,667.8 1049.5,668.1 1050.5,668.3 1051.5,668.6 1052.5,668.9 1053.5,669.2 1054.5,669.5 1055.5,669.8 1056.0,670.0" fill="none" stroke="#474747" stroke-width="6.5" stroke-linejoin="round" stroke-linecap="round"/>
<g fill="#ff0000" stroke="none"><polygon points="164.0,543.4 165.0,547.5 166.0,551.9 167.0,556.2 168.0,560.4 169.0,566.8 170.0,570.0 171.0,572.8 172.0,575.4 173.0,577.9 174.0,581.9 175.0,584.1 176.0,586.1 177.0,585.0 178.0,586.5 179.0,587.9 180.0,589.0 181.0,590.1 182.0,594.6 183.0,595.6 184.0,596.5 185.0,597.0 186.0,597.8 187.0,598.6 188.0,599.3 189.0,597.1 190.0,597.8 191.0,596.0 192.0,596.7 193.0,597.3 194.0,598.0 195.0,598.6 196.0,601.5 197.0,602.2 198.0,602.9 199.0,607.2 200.0,608.0 201.0,603.5 202.0,604.2 203.0,604.9 204.0,606.2 205.0,606.9 206.0,609.8 207.0,610.5 208.0,611.2 209.0,611.9 210.0,612.0 211.0,612.7 212.0,613.4 213.0,614.1 214.0,614.8 215.0,615.4 216.0,616.1 217.0,617.0 218.0,617.6 219.0,618.5 220.0,619.1 221.0,619.7 222.0,620.2 223.0,618.9 224.0,619.4 225.0,619.6 226.0,620.2 227.0,620.7 228.0,621.3 229.0,626.5 230.0,627.0 231.0,627.6 232.0,628.2 233.0,626.4 234.0,627.0 235.0,627.8 236.0,628.4 237.0,629.1 238.0,629.9 239.0,627.7 240.0,628.5 240.0,648.2 239.0,647.4 238.0,646.6 237.0,647.2 236.0,646.5 235.0,645.8 234.0,644.1 233.0,643.5 232.0,649.0 231.0,648.4 230.0,647.8 229.0,647.2 228.0,646.7 227.0,641.1 226.0,640.6 225.0,645.1 224.0,644.5 223.0,644.0 222.0,643.4 221.0,638.2 220.0,637.6 219.0,641.7 218.0,641.1 217.0,640.4 216.0,639.8 215.0,639.2 214.0,632.9 213.0,632.3 212.0,631.6 211.0,631.0 210.0,630.3 209.0,631.6 208.0,630.9 207.0,630.2 206.0,633.1 205.0,632.4 204.0,631.7 203.0,627.6 202.0,626.9 201.0,626.1 200.0,626.9 199.0,626.2 198.0,625.5 197.0,625.5 196.0,624.8 195.0,624.1 194.0,623.5 193.0,622.8 192.0,617.1 191.0,616.5 190.0,616.6 189.0,616.0 188.0,619.2 187.0,618.5 186.0,617.8 185.0,617.0 184.0,616.1 183.0,612.5 182.0,611.5 181.0,610.5 180.0,609.4 179.0,608.3 178.0,606.9 177.0,605.4 176.0,603.6 175.0,604.4 174.0,602.3 173.0,600.0 172.0,595.2 171.0,592.5 170.0,589.8 169.0,586.6 168.0,582.8 167.0,579.0 166.0,574.6 165.0,568.6 164.0,564.5"/><polygon points="241.3,629.6 242.3,527.6 243.3,467.6 244.3,431.2 244.5,432.4 245.3,423.7 246.3,417.3 246.5,416.4 247.3,413.3 248.3,409.4 249.3,406.9 250.3,406.0 251.3,404.0 251.4,403.8 252.3,399.7 253.3,397.9 254.3,396.2 255.3,394.5 256.3,394.6 257.3,393.1 258.3,391.5 258.6,391.1 259.3,390.0 260.3,384.0 261.3,382.5 262.3,381.1 263.3,379.7 264.3,378.4 265.3,376.9 265.7,376.4 266.3,375.6 267.3,376.0 268.3,374.8 269.3,373.7 270.3,370.9 271.3,369.8 272.3,368.7 272.9,368.1 273.3,368.8 274.3,367.7 275.3,366.6 276.3,365.4 277.3,364.3 278.3,363.2 279.3,362.4 280.3,361.3 281.3,360.2 282.3,357.9 283.3,356.9 284.3,355.8 285.3,354.9 286.3,353.9 287.0,356.2 287.3,355.9 288.3,357.0 289.3,356.2 290.3,354.5 291.3,353.7 292.3,352.9 293.3,352.1 294.3,351.2 295.3,350.4 296.3,349.6 297.3,348.9 298.3,348.1 299.3,347.1 300.3,346.4 301.3,345.6 301.4,345.5 302.3,344.8 303.3,340.0 304.3,339.3 305.3,338.6 306.3,343.0 307.3,342.3 308.3,338.8 309.3,338.1 310.3,337.4 311.3,336.7 312.3,335.9 313.3,337.0 314.3,336.2 315.3,332.4 315.7,332.1 316.3,331.6 317.3,333.8 318.3,333.0 319.3,332.2 320.3,331.4 321.3,330.5 321.5,330.3 321.5,349.2 321.3,348.3 320.3,349.1 319.3,351.3 318.3,352.2 317.3,352.6 316.3,353.4 315.7,353.9 315.3,354.2 314.3,355.0 313.3,358.9 312.3,359.7 311.3,360.4 310.3,361.1 309.3,361.9 308.3,361.3 307.3,362.0 306.3,362.7 305.3,363.4 304.3,364.1 303.3,366.5 302.3,367.3 301.4,362.2 301.3,362.3 300.3,366.3 299.3,367.1 298.3,366.4 297.3,367.1 296.3,367.9 295.3,368.7 294.3,369.4 293.3,371.8 292.3,372.6 291.3,374.9 290.3,375.7 289.3,377.1 288.3,378.0 287.3,378.9 287.0,379.1 286.3,379.8 285.3,380.5 284.3,381.5 283.3,382.5 282.3,383.5 281.3,384.6 280.3,382.2 279.3,383.3 278.3,384.4 277.3,385.5 276.3,389.4 275.3,390.5 274.3,391.6 273.3,392.4 272.9,392.8 272.3,393.5 271.3,394.5 270.3,391.4 269.3,392.4 268.3,395.1 267.3,396.2 266.3,397.4 265.7,398.1 265.3,399.7 264.3,401.0 263.3,399.4 262.3,400.8 261.3,406.6 260.3,408.0 259.3,409.5 258.6,410.6 258.3,409.6 257.3,411.1 256.3,413.4 255.3,414.9 254.3,416.5 253.3,418.7 252.3,420.5 251.4,422.3 251.3,422.5 250.3,426.0 249.3,428.1 248.3,430.6 247.3,428.6 246.5,431.7 246.3,432.6 245.3,441.8 244.5,450.5 244.3,454.1 243.3,490.5 242.3,548.2 241.3,650.2"/><polygon points="323.0,324.8 323.6,436.8 324.0,493.2 324.5,537.7 325.0,544.4 326.0,552.3 327.0,556.5 328.0,559.8 329.0,562.5 330.0,564.7 331.0,565.9 331.4,566.5 332.0,565.5 333.0,567.1 334.0,568.5 335.0,570.9 336.0,572.1 337.0,573.3 338.0,573.5 339.0,574.5 340.0,575.5 341.0,576.5 342.0,578.4 343.0,579.3 344.0,580.1 345.0,581.0 346.0,581.8 347.0,583.7 348.0,584.6 349.0,585.4 350.0,587.2 350.5,587.6 351.0,588.1 352.0,589.0 353.0,586.0 354.0,586.9 355.0,587.8 356.0,588.7 357.0,589.5 358.0,589.9 359.0,590.7 360.0,591.6 361.0,596.6 362.0,597.4 363.0,598.2 364.0,599.0 365.0,599.9 366.0,600.7 367.0,601.5 368.0,602.3 369.0,603.2 369.5,601.7 370.0,602.1 371.0,602.9 372.0,602.3 373.0,603.1 374.0,603.2 375.0,603.9 376.0,604.7 377.0,605.4 378.0,608.6 379.0,609.3 380.0,607.0 381.0,607.8 382.0,608.6 383.0,609.3 384.0,613.6 385.0,614.4 386.0,615.2 387.0,616.1 388.0,616.9 388.6,615.6 389.0,616.0 390.0,616.8 391.0,617.8 392.0,618.7 393.0,621.9 394.0,622.8 395.0,623.8 396.0,624.8 397.0,625.8 398.0,627.1 399.0,628.1 400.0,626.6 401.0,627.6 402.0,629.3 403.0,630.4 403.8,631.2 404.0,631.5 405.0,632.1 406.0,633.2 406.5,633.7 406.5,653.5 406.0,652.9 405.0,653.5 404.0,652.4 403.8,652.2 403.0,651.4 402.0,650.7 401.0,649.7 400.0,648.6 399.0,647.6 398.0,643.3 397.0,642.3 396.0,643.3 395.0,642.3 394.0,640.8 393.0,639.8 392.0,638.9 391.0,637.9 390.0,638.8 389.0,637.9 388.6,637.5 388.0,637.0 387.0,639.0 386.0,638.2 385.0,637.3 384.0,636.5 383.0,635.7 382.0,630.1 381.0,629.3 380.0,627.8 379.0,627.0 378.0,626.3 377.0,627.9 376.0,627.1 375.0,626.4 374.0,625.6 373.0,624.3 372.0,623.5 371.0,621.6 370.0,620.8 369.5,620.4 369.0,620.0 368.0,619.1 367.0,617.9 366.0,617.1 365.0,616.3 364.0,615.5 363.0,614.7 362.0,613.6 361.0,612.8 360.0,611.9 359.0,613.1 358.0,612.2 357.0,611.4 356.0,613.0 355.0,612.1 354.0,611.3 353.0,610.4 352.0,605.6 351.0,604.7 350.5,607.9 350.0,607.5 349.0,603.4 348.0,602.5 347.0,601.7 346.0,600.8 345.0,600.0 344.0,598.8 343.0,597.9 342.0,597.1 341.0,601.0 340.0,600.1 339.0,599.1 338.0,598.1 337.0,593.7 336.0,592.5 335.0,593.5 334.0,592.1 333.0,590.7 332.0,585.6 331.4,584.6 331.0,583.9 330.0,582.1 329.0,583.3 328.0,580.6 327.0,575.2 326.0,571.0 325.0,564.7 324.5,558.0 324.0,516.5 323.6,461.2 323.0,349.2"/><polygon points="407.6,635.2 408.2,510.2 408.6,484.7 409.5,453.8 409.6,449.1 410.6,439.4 411.4,434.5 411.6,433.3 412.6,429.3 413.6,424.7 414.6,420.9 415.2,415.8 415.6,414.7 416.6,412.1 417.6,409.8 418.6,407.7 419.0,409.2 419.6,407.9 420.6,405.7 421.6,403.5 422.6,401.4 423.6,398.2 424.6,396.2 425.6,395.7 426.6,393.9 427.6,392.1 428.6,390.5 429.6,389.0 430.6,385.6 431.6,384.2 432.6,382.9 433.6,381.6 434.6,382.3 435.6,381.1 436.6,380.0 437.6,380.3 438.0,379.9 438.6,379.3 439.6,378.4 440.6,373.4 441.6,372.5 442.6,371.7 443.6,370.9 444.6,370.1 445.6,373.5 446.6,372.7 447.6,372.0 448.6,366.9 449.6,366.1 450.6,365.4 451.6,367.1 452.6,366.4 453.6,365.6 454.6,364.9 455.6,365.2 456.6,364.5 457.0,364.3 457.6,363.3 458.6,362.6 459.6,365.0 460.6,364.4 461.6,363.8 462.6,363.2 463.6,362.6 464.6,358.9 465.6,358.3 466.6,357.5 466.7,357.4 467.6,356.9 468.6,356.2 469.6,355.6 470.6,355.3 471.6,354.7 472.6,356.7 473.6,356.1 474.6,355.4 475.6,352.5 476.0,352.3 476.6,351.8 477.6,351.1 478.6,350.3 479.6,350.5 480.6,349.7 481.6,348.9 482.6,348.1 483.6,347.4 484.6,345.3 485.5,344.7 485.6,344.7 486.6,344.2 487.5,343.7 487.5,364.6 486.6,365.0 485.6,365.5 485.5,367.4 484.6,368.0 483.6,368.6 482.6,369.4 481.6,370.1 480.6,368.1 479.6,368.9 478.6,369.6 477.6,370.4 476.6,373.3 476.0,373.8 475.6,374.0 474.6,375.7 473.6,376.4 472.6,377.1 471.6,377.7 470.6,378.3 469.6,379.0 468.6,375.3 467.6,375.9 466.7,376.5 466.6,379.0 465.6,379.6 464.6,380.3 463.6,380.9 462.6,383.4 461.6,384.0 460.6,384.6 459.6,385.2 458.6,381.5 457.6,382.2 457.0,382.6 456.6,384.8 455.6,385.5 454.6,386.2 453.6,386.9 452.6,387.7 451.6,388.4 450.6,391.0 449.6,391.8 448.6,392.6 447.6,393.4 446.6,394.2 445.6,389.8 444.6,390.6 443.6,391.3 442.6,392.1 441.6,393.0 440.6,398.3 439.6,399.2 438.6,400.1 438.0,400.7 437.6,402.0 436.6,403.0 435.6,399.4 434.6,400.5 433.6,401.8 432.6,403.0 431.6,404.4 430.6,406.7 429.6,408.1 428.6,409.7 427.6,411.3 426.6,413.5 425.6,415.4 424.6,417.3 423.6,419.3 422.6,420.8 421.6,422.9 420.6,425.1 419.6,426.0 419.0,427.3 418.6,432.5 417.6,434.6 416.6,436.8 415.6,440.8 415.2,442.0 414.6,439.3 413.6,443.1 412.6,449.8 411.6,455.3 411.4,456.5 410.6,461.3 409.6,471.0 409.5,471.9 408.6,502.7 408.2,529.9 407.6,654.9"/><polygon points="488.0,345.6 488.6,461.6 489.0,523.3 489.4,558.3 490.0,563.9 491.0,563.1 492.0,566.9 493.0,570.1 494.0,572.8 495.0,580.2 496.0,582.3 497.0,584.2 498.0,586.0 499.0,585.2 500.0,586.8 501.0,588.2 502.0,589.6 502.9,588.8 503.0,588.9 504.0,590.1 505.0,595.6 506.0,596.7 507.0,597.7 508.0,598.6 509.0,599.5 510.0,596.2 511.0,597.0 512.0,601.8 513.0,602.6 514.0,603.5 515.0,604.3 516.0,605.2 517.0,606.2 518.0,607.2 519.0,608.1 520.0,604.4 521.0,605.3 522.0,606.3 523.0,606.7 524.0,607.6 525.0,608.6 526.0,609.5 527.0,612.7 528.0,613.6 529.0,612.2 530.0,613.2 531.0,614.1 532.0,620.7 533.0,621.6 534.0,622.6 535.0,623.5 536.0,624.5 537.0,623.8 538.0,624.8 539.0,625.1 540.0,626.0 541.0,627.0 542.0,627.9 543.0,628.9 544.0,629.8 545.0,630.7 546.0,631.7 547.0,632.6 548.0,636.3 549.0,637.2 550.0,638.2 551.0,639.1 552.0,634.7 553.0,635.7 554.0,639.4 555.0,640.4 556.0,641.3 557.0,640.1 558.0,641.1 559.0,642.1 560.0,643.0 561.0,642.8 562.0,643.8 563.0,644.7 564.0,645.6 565.0,646.4 565.7,652.3 566.0,652.5 567.0,653.3 568.0,652.5 569.0,653.2 570.0,650.8 571.0,651.4 571.5,653.3 571.5,677.3 571.0,674.3 570.0,673.6 569.0,673.0 568.0,672.3 567.0,669.7 566.0,668.9 565.7,668.7 565.0,668.1 564.0,665.8 563.0,664.9 562.0,664.0 561.0,663.0 560.0,662.0 559.0,665.9 558.0,664.9 557.0,661.9 556.0,660.9 555.0,660.0 554.0,659.1 553.0,660.0 552.0,659.1 551.0,654.1 550.0,653.2 549.0,656.4 548.0,655.4 547.0,653.7 546.0,652.8 545.0,651.8 544.0,650.9 543.0,649.9 542.0,647.3 541.0,646.4 540.0,646.6 539.0,645.6 538.0,644.7 537.0,643.7 536.0,642.8 535.0,640.4 534.0,639.4 533.0,638.5 532.0,637.5 531.0,635.9 530.0,634.9 529.0,638.8 528.0,637.9 527.0,636.9 526.0,636.0 525.0,628.8 524.0,627.8 523.0,628.7 522.0,627.8 521.0,626.9 520.0,625.9 519.0,623.5 518.0,622.6 517.0,621.6 516.0,622.9 515.0,622.0 514.0,621.2 513.0,622.7 512.0,621.8 511.0,621.0 510.0,620.2 509.0,620.0 508.0,619.1 507.0,618.2 506.0,617.2 505.0,611.4 504.0,610.3 503.0,609.1 502.9,609.0 502.0,607.8 501.0,610.8 500.0,609.4 499.0,607.9 498.0,605.7 497.0,603.9 496.0,599.0 495.0,596.9 494.0,594.6 493.0,591.9 492.0,592.1 491.0,588.3 490.0,583.9 489.4,578.3 489.0,542.0 488.6,480.3 488.0,364.3"/><polygon points="572.2,652.8 572.8,548.8 573.2,517.2 574.0,479.4 574.2,475.4 575.2,458.2 575.5,455.4 576.2,450.9 577.2,446.1 578.2,439.6 579.0,437.4 579.2,436.9 580.2,437.3 581.2,435.4 582.2,433.8 583.2,432.2 583.8,431.2 584.2,430.6 585.2,429.0 586.2,426.3 587.2,424.9 588.2,423.6 588.6,423.1 589.2,422.3 590.2,421.6 591.2,420.4 592.2,419.3 593.2,418.2 594.2,416.4 595.2,415.4 596.2,414.4 597.2,413.4 598.0,412.7 598.2,412.5 599.2,411.6 600.2,410.8 601.2,410.0 602.2,413.3 603.2,412.6 604.2,411.9 605.2,411.1 606.2,406.8 607.2,406.0 607.6,405.7 608.2,406.3 609.2,405.4 610.2,404.5 611.2,405.8 612.2,404.9 613.2,403.9 614.2,403.0 615.2,402.1 616.2,396.8 617.0,396.1 617.2,395.9 618.2,395.2 619.2,395.4 620.2,394.6 621.2,397.1 622.2,396.4 623.2,395.7 624.2,395.0 625.2,392.1 626.2,391.4 626.7,391.2 627.2,392.0 628.2,391.5 629.2,391.0 630.2,390.6 631.2,390.2 632.2,391.1 633.2,390.6 634.2,390.1 635.2,383.9 636.0,383.4 636.2,388.3 637.2,387.6 638.2,386.7 639.2,385.7 640.2,384.7 641.2,380.7 642.2,379.8 643.0,379.0 643.2,382.4 644.2,381.6 645.2,378.2 646.2,377.5 646.8,377.0 646.8,399.3 646.2,399.7 645.2,400.5 644.2,401.5 643.2,402.3 643.0,402.5 642.2,401.0 641.2,402.0 640.2,403.0 639.2,404.0 638.2,403.2 637.2,404.1 636.2,404.8 636.0,404.9 635.2,407.2 634.2,407.7 633.2,408.2 632.2,408.7 631.2,409.5 630.2,409.9 629.2,410.4 628.2,413.1 627.2,413.7 626.7,408.6 626.2,408.9 625.2,409.5 624.2,410.1 623.2,411.0 622.2,411.7 621.2,412.0 620.2,412.7 619.2,413.5 618.2,414.3 617.2,415.1 617.0,416.8 616.2,417.5 615.2,420.6 614.2,421.6 613.2,424.1 612.2,425.0 611.2,426.0 610.2,424.5 609.2,425.4 608.2,426.3 607.6,424.8 607.2,425.1 606.2,425.9 605.2,429.6 604.2,430.3 603.2,431.0 602.2,429.5 601.2,430.2 600.2,431.0 599.2,431.8 598.2,435.9 598.0,436.1 597.2,436.9 596.2,437.8 595.2,437.0 594.2,438.0 593.2,437.3 592.2,438.4 591.2,439.5 590.2,445.3 589.2,446.5 588.6,447.2 588.2,443.9 587.2,445.3 586.2,446.7 585.2,448.2 584.2,449.8 583.8,451.9 583.2,452.9 582.2,454.5 581.2,456.2 580.2,458.1 579.2,460.9 579.0,461.4 578.2,463.6 577.2,465.0 576.2,469.8 575.5,475.5 575.2,478.2 574.2,495.5 574.0,500.5 573.2,540.4 572.8,572.6 572.2,676.6"/><polygon points="649.0,375.1 649.6,490.1 650.0,539.4 650.5,574.4 651.0,580.5 652.0,586.4 653.0,590.9 654.0,594.7 655.0,597.8 656.0,600.3 657.0,603.0 658.0,605.0 659.0,606.8 660.0,608.5 661.0,609.2 662.0,610.6 663.0,611.9 664.0,612.2 665.0,613.4 666.0,614.6 667.0,615.8 668.0,615.1 669.0,616.3 670.0,617.6 670.5,618.3 671.0,619.0 672.0,622.5 673.0,623.9 674.0,625.1 675.0,626.5 676.0,627.9 677.0,629.2 678.0,630.6 679.0,630.4 680.0,631.7 681.0,633.1 682.0,634.4 683.0,635.7 684.0,640.3 685.0,641.6 686.0,642.8 687.0,644.1 688.0,645.3 689.0,647.8 689.5,648.4 690.0,643.6 691.0,644.7 692.0,645.8 693.0,648.3 694.0,649.3 695.0,650.2 696.0,651.2 697.0,652.2 698.0,653.2 699.0,654.2 700.0,658.0 701.0,659.0 702.0,659.9 703.0,660.9 704.0,662.2 705.0,663.1 706.0,664.1 707.0,664.1 708.0,665.0 708.6,665.6 709.0,665.9 710.0,667.1 711.0,668.1 712.0,667.4 713.0,668.3 714.0,669.2 715.0,670.1 716.0,671.0 717.0,672.7 718.0,673.6 719.0,674.5 720.0,675.4 721.0,676.1 722.0,676.9 723.0,677.8 724.0,678.6 725.0,679.8 725.7,680.3 726.0,680.6 727.0,683.4 728.0,684.1 729.0,684.9 730.0,686.0 731.0,686.7 731.0,706.6 730.0,705.8 729.0,702.2 728.0,701.5 727.0,702.6 726.0,701.9 725.7,700.2 725.0,699.7 724.0,698.8 723.0,698.0 722.0,697.2 721.0,697.5 720.0,696.7 719.0,695.8 718.0,694.9 717.0,692.0 716.0,691.1 715.0,690.2 714.0,689.3 713.0,688.4 712.0,690.1 711.0,689.2 710.0,688.3 709.0,687.4 708.6,685.2 708.0,684.7 707.0,683.7 706.0,681.3 705.0,680.3 704.0,679.4 703.0,678.4 702.0,677.5 701.0,675.6 700.0,674.6 699.0,673.7 698.0,672.6 697.0,671.6 696.0,670.6 695.0,669.6 694.0,672.7 693.0,671.7 692.0,670.6 691.0,669.5 690.0,665.8 689.5,665.2 689.0,667.6 688.0,666.4 687.0,665.2 686.0,664.0 685.0,658.1 684.0,656.8 683.0,655.5 682.0,654.2 681.0,652.9 680.0,655.3 679.0,654.0 678.0,652.1 677.0,650.7 676.0,649.3 675.0,647.6 674.0,646.2 673.0,644.8 672.0,645.3 671.0,644.0 670.5,643.3 670.0,642.6 669.0,641.8 668.0,640.5 667.0,639.3 666.0,638.2 665.0,637.0 664.0,631.2 663.0,630.0 662.0,628.7 661.0,631.4 660.0,629.9 659.0,628.3 658.0,626.2 657.0,624.2 656.0,622.0 655.0,619.4 654.0,616.0 653.0,612.3 652.0,607.8 651.0,600.9 650.5,594.8 650.0,560.2 649.6,510.8 649.0,395.8"/><polygon points="732.7,682.6 733.3,567.6 733.7,532.5 734.2,507.6 734.7,496.8 735.5,486.8 735.7,485.5 736.7,480.7 737.7,477.6 738.0,476.8 738.7,477.8 739.7,475.7 740.7,472.2 741.0,471.8 741.7,470.0 742.7,468.7 743.7,467.6 744.7,466.4 745.0,466.0 745.7,469.3 746.7,467.7 747.7,466.1 748.7,459.9 749.0,459.6 749.7,458.8 750.7,459.7 751.7,458.8 752.7,457.9 753.7,457.0 754.7,456.2 755.7,458.3 756.4,457.6 756.7,457.3 757.7,456.2 758.7,452.9 759.7,451.6 760.7,450.4 761.7,449.1 762.7,447.8 763.7,443.7 764.7,442.5 765.7,441.3 766.7,440.3 767.7,442.6 767.9,442.4 768.7,442.8 769.7,442.1 770.7,438.4 771.7,437.7 772.7,437.1 773.7,435.6 774.7,435.0 775.7,434.4 776.7,439.5 777.0,439.3 777.7,438.8 778.7,438.2 779.7,437.5 780.7,431.1 781.7,430.4 782.7,429.7 783.7,429.0 784.7,428.3 785.0,431.9 785.7,431.4 786.7,431.4 787.7,430.5 788.7,429.7 789.7,426.2 790.7,425.4 791.7,424.6 792.7,423.8 793.6,423.1 793.7,423.0 794.7,422.3 795.7,421.7 796.7,422.1 797.7,421.5 798.7,420.9 799.7,420.5 800.0,420.3 800.7,419.9 801.7,419.3 802.7,417.4 803.7,416.9 804.7,416.3 805.7,415.7 806.7,413.5 807.7,412.6 807.9,412.4 808.7,411.4 809.7,409.7 810.7,407.7 811.0,407.2 811.0,433.2 810.7,433.7 809.7,435.5 808.7,434.5 807.9,435.5 807.7,435.7 806.7,436.5 805.7,437.2 804.7,435.8 803.7,436.4 802.7,436.9 801.7,437.5 800.7,438.0 800.0,442.1 799.7,442.3 798.7,440.6 797.7,441.2 796.7,441.8 795.7,439.8 794.7,440.5 793.7,441.2 793.6,441.2 792.7,442.3 791.7,443.1 790.7,443.9 789.7,444.7 788.7,445.6 787.7,451.6 786.7,452.5 785.7,449.8 785.0,450.4 784.7,453.6 783.7,454.3 782.7,455.0 781.7,450.5 780.7,451.1 779.7,451.8 778.7,453.4 777.7,454.1 777.0,456.9 776.7,457.1 775.7,457.7 774.7,458.4 773.7,459.7 772.7,460.3 771.7,461.0 770.7,458.5 769.7,459.1 768.7,459.9 767.9,460.5 767.7,462.4 766.7,463.4 765.7,464.4 764.7,466.8 763.7,468.0 762.7,469.2 761.7,470.5 760.7,471.8 759.7,474.3 758.7,475.6 757.7,476.8 756.7,477.9 756.4,478.2 755.7,479.6 754.7,480.5 753.7,481.4 752.7,482.3 751.7,483.1 750.7,484.0 749.7,485.0 749.0,485.8 748.7,484.7 747.7,486.1 746.7,488.5 745.7,490.1 745.0,491.1 744.7,491.5 743.7,494.0 742.7,495.1 741.7,496.3 741.0,497.3 740.7,497.8 739.7,499.4 738.7,501.4 738.0,503.2 737.7,500.5 736.7,503.6 735.7,508.4 735.5,510.2 734.7,519.5 734.2,531.3 733.7,556.3 733.3,591.3 732.7,706.3"/><polygon points="812.4,408.9 813.0,530.9 813.4,576.9 814.0,614.9 814.4,620.7 815.4,626.0 815.5,626.4 816.4,629.9 817.4,633.0 818.4,629.7 819.4,631.9 819.7,632.5 820.4,634.0 821.4,640.0 822.4,641.9 823.4,645.3 824.4,646.9 825.4,648.5 826.4,646.4 827.4,647.9 828.4,649.3 829.4,650.7 830.4,652.0 831.4,653.4 832.4,654.7 833.4,654.6 834.4,655.8 835.4,661.0 835.7,661.4 836.4,662.2 837.4,663.4 838.4,664.6 839.4,664.3 840.4,665.4 841.4,663.9 842.4,664.9 843.4,665.7 844.4,666.7 845.4,667.7 846.4,672.6 847.4,673.5 848.4,674.5 849.4,671.3 850.4,672.2 851.4,673.1 852.4,674.1 853.4,675.0 854.4,675.8 855.4,676.8 856.4,677.7 857.4,678.6 858.4,682.2 858.6,682.3 859.4,683.1 860.4,684.1 861.4,685.0 862.4,687.8 863.4,688.7 864.4,688.9 865.4,689.8 866.4,690.7 867.4,691.8 868.4,692.7 869.4,692.1 870.4,693.0 871.4,693.9 872.4,694.8 873.4,696.4 874.4,697.4 875.4,698.3 876.4,699.2 877.4,702.4 878.4,703.4 879.4,704.3 880.4,705.3 881.4,706.3 882.4,703.9 883.4,705.0 884.4,706.1 885.4,706.8 886.4,708.0 887.4,709.1 888.4,713.4 889.4,714.5 890.4,715.5 890.6,716.7 891.4,717.5 892.4,718.5 893.4,719.5 894.4,720.6 894.5,717.1 894.5,739.6 894.4,736.6 893.4,735.5 892.4,734.5 891.4,736.9 890.6,736.1 890.4,735.9 889.4,733.8 888.4,732.7 887.4,731.2 886.4,730.1 885.4,729.0 884.4,730.6 883.4,729.5 882.4,728.4 881.4,724.8 880.4,723.8 879.4,722.8 878.4,722.1 877.4,721.1 876.4,720.2 875.4,719.3 874.4,717.9 873.4,717.0 872.4,716.1 871.4,715.2 870.4,712.4 869.4,711.6 868.4,710.7 867.4,712.1 866.4,711.2 865.4,711.4 864.4,710.5 863.4,709.6 862.4,708.7 861.4,704.0 860.4,703.1 859.4,702.2 858.6,701.4 858.4,701.2 857.4,699.6 856.4,698.7 855.4,697.8 854.4,696.8 853.4,695.9 852.4,696.5 851.4,695.5 850.4,694.6 849.4,693.1 848.4,692.2 847.4,693.8 846.4,692.8 845.4,691.9 844.4,692.9 843.4,691.9 842.4,690.9 841.4,689.8 840.4,686.4 839.4,685.3 838.4,684.2 837.4,683.0 836.4,681.9 835.7,681.1 835.4,680.7 834.4,679.5 833.4,678.3 832.4,677.0 831.4,674.9 830.4,673.6 829.4,672.3 828.4,670.9 827.4,669.5 826.4,670.2 825.4,668.7 824.4,667.1 823.4,664.3 822.4,662.5 821.4,660.6 820.4,660.5 819.7,659.0 819.4,658.4 818.4,656.2 817.4,653.6 816.4,646.8 815.5,643.3 815.4,643.5 814.4,638.1 814.0,632.1 813.4,594.1 813.0,547.7 812.4,425.7"/><polygon points="896.5,721.3 897.1,612.3 897.5,577.4 898.0,552.3 898.5,540.7 899.5,529.2 900.5,522.7 901.5,518.2 902.0,515.0 902.5,513.0 903.5,510.7 904.5,507.6 905.0,506.4 905.5,503.2 906.5,501.1 907.5,501.7 908.5,500.0 909.5,498.4 910.5,497.0 911.5,492.8 912.5,491.4 913.5,490.1 914.5,488.7 915.0,485.9 915.5,485.2 916.5,488.0 917.5,486.6 918.5,485.6 919.5,484.3 920.5,483.0 921.5,481.8 922.5,476.8 923.5,475.7 924.5,474.6 925.0,474.1 925.5,475.1 926.5,474.1 927.5,473.2 928.5,473.2 929.5,472.3 930.5,473.2 931.5,472.4 932.5,471.6 933.5,470.8 934.5,470.1 935.0,468.9 935.5,468.6 936.5,467.9 937.5,465.3 938.5,464.6 939.5,464.0 940.5,463.4 941.5,462.9 942.5,465.2 943.5,464.6 944.5,462.1 945.5,461.5 946.5,460.9 947.5,460.2 948.0,459.9 948.5,459.2 949.5,458.5 950.5,457.8 951.5,456.9 952.5,456.2 953.5,457.0 954.5,456.2 955.5,455.5 956.5,455.3 956.6,455.2 957.5,454.6 958.5,455.3 959.5,454.6 960.5,453.9 961.5,453.2 962.5,448.2 963.5,447.5 964.5,448.7 965.0,448.3 965.5,447.9 966.5,445.7 967.5,444.6 968.5,443.6 969.5,442.5 970.5,441.5 971.0,442.7 971.5,442.2 972.5,441.4 973.5,440.5 974.5,439.7 974.5,459.7 973.5,460.6 972.5,461.4 971.5,460.1 971.0,460.5 970.5,461.0 969.5,464.2 968.5,465.2 967.5,466.3 966.5,467.3 965.5,468.3 965.0,470.6 964.5,471.1 963.5,471.8 962.5,472.6 961.5,474.2 960.5,474.8 959.5,475.1 958.5,475.8 957.5,476.5 956.6,477.1 956.5,477.2 955.5,475.4 954.5,476.1 953.5,476.8 952.5,478.5 951.5,479.2 950.5,479.9 949.5,480.5 948.5,481.2 948.0,483.3 947.5,483.6 946.5,484.3 945.5,484.9 944.5,485.5 943.5,481.4 942.5,482.0 941.5,482.5 940.5,483.1 939.5,483.7 938.5,484.3 937.5,485.0 936.5,489.7 935.5,490.4 935.0,490.7 934.5,491.1 933.5,491.0 932.5,491.8 931.5,492.6 930.5,493.4 929.5,494.1 928.5,495.0 927.5,495.9 926.5,496.8 925.5,497.8 925.0,495.5 924.5,496.0 923.5,497.2 922.5,498.4 921.5,500.2 920.5,501.4 919.5,502.7 918.5,504.0 917.5,505.3 916.5,507.4 915.5,508.8 915.0,509.5 914.5,510.2 913.5,511.8 912.5,513.1 911.5,516.1 910.5,517.5 909.5,519.0 908.5,520.6 907.5,522.3 906.5,524.3 905.5,526.3 905.0,527.5 904.5,528.7 903.5,531.8 902.5,535.8 902.0,537.8 901.5,539.8 900.5,544.3 899.5,550.8 898.5,561.5 898.0,571.9 897.5,597.0 897.1,631.9 896.5,740.9"/><polygon points="976.4,438.3 977.0,552.3 977.4,603.0 978.0,647.1 978.4,651.6 979.4,658.5 980.0,660.9 980.4,662.6 981.4,666.3 982.4,669.4 983.4,667.4 984.3,669.2 984.4,669.4 985.4,673.8 986.4,675.3 987.4,676.0 988.4,677.3 989.4,676.1 990.4,677.2 991.4,678.3 992.4,679.3 993.4,680.3 994.4,685.6 995.4,686.7 995.7,687.0 996.4,687.8 997.4,688.8 998.4,690.5 999.4,691.5 1000.4,692.5 1001.4,690.9 1002.4,691.9 1003.4,693.9 1004.4,694.8 1005.4,695.8 1006.4,696.7 1007.4,698.7 1008.4,699.7 1009.4,700.6 1010.4,701.5 1011.4,702.4 1012.4,698.6 1013.4,699.5 1014.4,700.4 1015.4,701.4 1016.4,702.3 1017.4,706.9 1018.4,707.8 1018.6,708.0 1019.4,709.4 1020.4,710.3 1021.4,706.7 1022.4,707.6 1023.4,708.4 1024.4,709.3 1025.4,714.8 1026.4,715.7 1027.4,714.3 1028.4,715.1 1029.4,716.0 1030.4,719.0 1031.4,719.9 1032.4,720.7 1033.4,718.7 1034.4,719.5 1035.4,719.9 1036.4,720.8 1037.4,721.7 1038.4,722.5 1039.4,721.9 1040.4,722.8 1041.4,723.7 1042.4,724.6 1043.4,726.1 1044.4,726.9 1045.4,727.7 1046.4,728.5 1047.4,732.7 1048.4,733.5 1049.4,734.4 1050.4,734.8 1051.4,735.8 1052.4,736.9 1053.4,738.1 1054.4,739.4 1055.0,741.5 1055.4,742.2 1056.0,743.5 1056.0,762.3 1055.4,761.1 1055.0,760.3 1054.4,759.5 1053.4,760.0 1052.4,758.8 1051.4,757.7 1050.4,756.7 1049.4,755.8 1048.4,751.9 1047.4,751.1 1046.4,750.3 1045.4,749.5 1044.4,750.2 1043.4,749.4 1042.4,745.4 1041.4,744.5 1040.4,743.6 1039.4,742.7 1038.4,741.8 1037.4,740.5 1036.4,739.6 1035.4,738.8 1034.4,737.9 1033.4,737.0 1032.4,740.1 1031.4,739.3 1030.4,740.8 1029.4,739.9 1028.4,739.0 1027.4,733.1 1026.4,732.2 1025.4,734.8 1024.4,734.0 1023.4,733.1 1022.4,732.2 1021.4,728.2 1020.4,727.3 1019.4,726.4 1018.6,725.2 1018.4,725.0 1017.4,728.1 1016.4,727.2 1015.4,726.3 1014.4,725.4 1013.4,724.5 1012.4,721.9 1011.4,721.0 1010.4,720.1 1009.4,719.1 1008.4,714.8 1007.4,713.9 1006.4,716.3 1005.4,715.3 1004.4,713.8 1003.4,712.8 1002.4,712.0 1001.4,711.0 1000.4,707.9 999.4,706.9 998.4,705.8 997.4,704.8 996.4,707.1 995.7,706.4 995.4,706.0 994.4,707.0 993.4,706.0 992.4,705.0 991.4,701.5 990.4,700.4 989.4,700.7 988.4,699.5 987.4,698.2 986.4,696.8 985.4,695.1 984.4,693.3 984.3,693.2 983.4,691.3 982.4,686.9 981.4,683.7 980.4,680.0 980.0,676.8 979.4,674.4 978.4,668.3 978.0,662.9 977.4,618.8 977.0,567.9 976.4,453.9"/><polygon points="1057.0,749.1 1057.6,615.1 1058.0,601.1 1058.0,619.8 1057.6,633.8 1057.0,767.8"/></g>
<polyline points="164.0,556.0 165.0,560.2 166.0,564.5 167.0,568.9 168.0,573.0 169.0,576.8 170.0,580.0 171.0,582.8 172.0,585.4 173.0,587.9 174.0,590.2 175.0,592.4 176.0,594.3 177.0,596.1 178.0,597.7 179.0,599.0 180.0,600.2 181.0,601.3 182.0,602.3 183.0,603.3 184.0,604.2 185.0,605.0 186.0,605.8 187.0,606.6 188.0,607.3 189.0,608.0 190.0,608.7 191.0,609.3 192.0,610.0 193.0,610.6 194.0,611.3 195.0,611.9 196.0,612.6 197.0,613.3 198.0,614.0 199.0,614.7 200.0,615.5 201.0,616.2 202.0,616.9 203.0,617.6 204.0,618.3 205.0,619.0 206.0,619.7 207.0,620.4 208.0,621.1 209.0,621.8 210.0,622.4 211.0,623.1 212.0,623.8 213.0,624.4 214.0,625.1 215.0,625.7 216.0,626.4 217.0,627.0 218.0,627.6 219.0,628.2 220.0,628.8 221.0,629.4 222.0,629.9 223.0,630.5 224.0,631.0 225.0,631.6 226.0,632.1 227.0,632.7 228.0,633.2 229.0,633.8 230.0,634.3 231.0,634.9 232.0,635.5 233.0,636.1 234.0,636.7 235.0,637.3 236.0,638.0 237.0,638.7 238.0,639.5 239.0,640.2 240.0,641.0 241.3,642.0 242.3,540.0 243.3,480.0 244.3,443.7 244.5,440.0 245.3,431.3 246.3,424.9 246.5,424.0 247.3,420.9 248.3,417.8 249.3,415.3 250.3,413.2 251.3,411.2 251.4,411.0 252.3,409.2 253.3,407.4 254.3,405.6 255.3,404.0 256.3,402.5 257.3,401.0 258.3,399.5 258.6,399.0 259.3,397.9 260.3,396.4 261.3,395.0 262.3,393.5 263.3,392.1 264.3,390.8 265.3,389.5 265.7,389.0 266.3,388.3 267.3,387.1 268.3,386.0 269.3,384.9 270.3,383.8 271.3,382.7 272.3,381.6 272.9,381.0 273.3,380.6 274.3,379.5 275.3,378.4 276.3,377.2 277.3,376.1 278.3,375.0 279.3,373.9 280.3,372.8 281.3,371.7 282.3,370.7 283.3,369.6 284.3,368.6 285.3,367.6 286.3,366.6 287.0,366.0 287.3,365.7 288.3,364.8 289.3,364.0 290.3,363.1 291.3,362.3 292.3,361.5 293.3,360.7 294.3,359.9 295.3,359.1 296.3,358.4 297.3,357.6 298.3,356.9 299.3,356.1 300.3,355.3 301.3,354.6 301.4,354.5 302.3,353.8 303.3,353.1 304.3,352.3 305.3,351.6 306.3,350.9 307.3,350.2 308.3,349.5 309.3,348.8 310.3,348.1 311.3,347.3 312.3,346.6 313.3,345.9 314.3,345.1 315.3,344.3 315.7,344.0 316.3,343.5 317.3,342.7 318.3,341.8 319.3,340.9 320.3,340.0 321.3,339.2 321.5,339.0 323.0,338.0 323.6,450.0 324.0,506.4 324.5,548.0 325.0,554.7 326.0,561.0 327.0,565.2 328.0,568.6 329.0,571.3 330.0,573.5 331.0,575.3 331.4,576.0 332.0,577.0 333.0,578.5 334.0,579.9 335.0,581.3 336.0,582.5 337.0,583.7 338.0,584.8 339.0,585.9 340.0,586.8 341.0,587.8 342.0,588.7 343.0,589.6 344.0,590.4 345.0,591.3 346.0,592.1 347.0,592.9 348.0,593.8 349.0,594.6 350.0,595.5 350.5,596.0 351.0,596.5 352.0,597.4 353.0,598.3 354.0,599.2 355.0,600.1 356.0,600.9 357.0,601.8 358.0,602.6 359.0,603.5 360.0,604.3 361.0,605.1 362.0,605.9 363.0,606.7 364.0,607.6 365.0,608.4 366.0,609.2 367.0,610.0 368.0,610.8 369.0,611.6 369.5,612.0 370.0,612.4 371.0,613.2 372.0,614.0 373.0,614.8 374.0,615.5 375.0,616.3 376.0,617.0 377.0,617.8 378.0,618.6 379.0,619.3 380.0,620.1 381.0,620.8 382.0,621.6 383.0,622.4 384.0,623.2 385.0,624.0 386.0,624.8 387.0,625.6 388.0,626.5 388.6,627.0 389.0,627.4 390.0,628.2 391.0,629.2 392.0,630.1 393.0,631.0 394.0,632.0 395.0,633.0 396.0,634.0 397.0,635.0 398.0,636.0 399.0,637.0 400.0,638.0 401.0,639.1 402.0,640.1 403.0,641.2 403.8,642.0 404.0,642.2 405.0,643.3 406.0,644.4 406.5,645.0 407.6,645.0 408.2,520.0 408.6,492.9 409.5,462.0 409.6,460.6 410.6,450.9 411.4,446.0 411.6,444.8 412.6,439.4 413.6,434.8 414.6,431.0 415.2,429.0 415.6,427.8 416.6,425.2 417.6,423.0 418.6,420.9 419.0,420.0 419.6,418.7 420.6,416.5 421.6,414.4 422.6,412.2 423.6,410.1 424.6,408.1 425.6,406.2 426.6,404.4 427.6,402.6 428.6,401.0 429.6,399.5 430.6,398.0 431.6,396.6 432.6,395.3 433.6,394.0 434.6,392.8 435.6,391.6 436.6,390.5 437.6,389.4 438.0,389.0 438.6,388.4 439.6,387.5 440.6,386.6 441.6,385.7 442.6,384.9 443.6,384.1 444.6,383.3 445.6,382.5 446.6,381.8 447.6,381.0 448.6,380.2 449.6,379.4 450.6,378.7 451.6,377.9 452.6,377.1 453.6,376.4 454.6,375.7 455.6,375.0 456.6,374.3 457.0,374.0 457.6,373.6 458.6,372.9 459.6,372.3 460.6,371.7 461.6,371.1 462.6,370.5 463.6,369.9 464.6,369.3 465.6,368.7 466.6,368.1 466.7,368.0 467.6,367.4 468.6,366.8 469.6,366.2 470.6,365.5 471.6,364.9 472.6,364.3 473.6,363.6 474.6,362.9 475.6,362.3 476.0,362.0 476.6,361.6 477.6,360.8 478.6,360.1 479.6,359.3 480.6,358.5 481.6,357.7 482.6,356.9 483.6,356.2 484.6,355.5 485.5,355.0 485.6,354.9 486.6,354.4 487.5,354.0 488.0,354.0 488.6,470.0 489.0,531.7 489.4,566.0 490.0,571.7 491.0,576.0 492.0,579.9 493.0,583.0 494.0,585.7 495.0,588.0 496.0,590.1 497.0,592.1 498.0,593.9 499.0,595.5 500.0,597.1 501.0,598.5 502.0,599.9 502.9,601.0 503.0,601.1 504.0,602.3 505.0,603.4 506.0,604.4 507.0,605.4 508.0,606.4 509.0,607.3 510.0,608.2 511.0,609.0 512.0,609.8 513.0,610.7 514.0,611.5 515.0,612.3 516.0,613.2 517.0,614.1 518.0,615.0 519.0,615.9 520.0,616.9 521.0,617.8 522.0,618.8 523.0,619.7 524.0,620.7 525.0,621.6 526.0,622.6 527.0,623.5 528.0,624.4 529.0,625.4 530.0,626.4 531.0,627.3 532.0,628.3 533.0,629.2 534.0,630.2 535.0,631.1 536.0,632.1 537.0,633.0 538.0,633.9 539.0,634.9 540.0,635.8 541.0,636.8 542.0,637.7 543.0,638.7 544.0,639.6 545.0,640.6 546.0,641.6 547.0,642.5 548.0,643.5 549.0,644.4 550.0,645.3 551.0,646.3 552.0,647.2 553.0,648.2 554.0,649.1 555.0,650.1 556.0,651.0 557.0,651.9 558.0,652.9 559.0,653.9 560.0,654.9 561.0,655.8 562.0,656.8 563.0,657.7 564.0,658.6 565.0,659.4 565.7,660.0 566.0,660.2 567.0,661.0 568.0,661.7 569.0,662.3 570.0,663.0 571.0,663.7 571.5,664.0 572.2,664.0 572.8,560.0 573.2,527.8 574.0,490.0 574.2,485.0 575.2,467.8 575.5,465.0 576.2,460.4 577.2,455.6 578.2,452.2 579.0,450.0 579.2,449.5 580.2,447.2 581.2,445.2 582.2,443.6 583.2,442.0 583.8,441.0 584.2,440.3 585.2,438.8 586.2,437.3 587.2,435.8 588.2,434.5 588.6,434.0 589.2,433.3 590.2,432.1 591.2,430.9 592.2,429.8 593.2,428.7 594.2,427.7 595.2,426.6 596.2,425.7 597.2,424.7 598.0,424.0 598.2,423.8 599.2,423.0 600.2,422.1 601.2,421.4 602.2,420.6 603.2,419.9 604.2,419.1 605.2,418.4 606.2,417.6 607.2,416.8 607.6,416.5 608.2,416.0 609.2,415.1 610.2,414.2 611.2,413.2 612.2,412.3 613.2,411.4 614.2,410.4 615.2,409.5 616.2,408.7 617.0,408.0 617.2,407.8 618.2,407.0 619.2,406.2 620.2,405.5 621.2,404.7 622.2,404.0 623.2,403.3 624.2,402.6 625.2,401.9 626.2,401.3 626.7,401.0 627.2,400.7 628.2,400.2 629.2,399.7 630.2,399.3 631.2,398.9 632.2,398.5 633.2,398.0 634.2,397.5 635.2,397.0 636.0,396.5 636.2,396.4 637.2,395.6 638.2,394.7 639.2,393.7 640.2,392.7 641.2,391.7 642.2,390.7 643.0,390.0 643.2,389.8 644.2,389.0 645.2,388.2 646.2,387.5 646.8,387.0 649.0,385.0 649.6,500.0 650.0,549.3 650.5,584.0 651.0,590.1 652.0,596.0 653.0,600.5 654.0,604.2 655.0,607.2 656.0,609.8 657.0,612.0 658.0,614.0 659.0,615.8 660.0,617.5 661.0,619.0 662.0,620.4 663.0,621.8 664.0,623.0 665.0,624.2 666.0,625.4 667.0,626.6 668.0,627.8 669.0,629.0 670.0,630.3 670.5,631.0 671.0,631.7 672.0,633.1 673.0,634.4 674.0,635.8 675.0,637.2 676.0,638.6 677.0,640.0 678.0,641.3 679.0,642.7 680.0,644.0 681.0,645.4 682.0,646.7 683.0,648.0 684.0,649.3 685.0,650.6 686.0,651.8 687.0,653.1 688.0,654.3 689.0,655.4 689.5,656.0 690.0,656.6 691.0,657.7 692.0,658.8 693.0,659.8 694.0,660.9 695.0,661.9 696.0,663.0 697.0,664.0 698.0,665.0 699.0,665.9 700.0,666.9 701.0,667.9 702.0,668.8 703.0,669.8 704.0,670.7 705.0,671.6 706.0,672.6 707.0,673.5 708.0,674.4 708.6,675.0 709.0,675.4 710.0,676.3 711.0,677.2 712.0,678.1 713.0,679.1 714.0,680.0 715.0,680.9 716.0,681.8 717.0,682.6 718.0,683.5 719.0,684.4 720.0,685.3 721.0,686.1 722.0,687.0 723.0,687.8 724.0,688.6 725.0,689.4 725.7,690.0 726.0,690.2 727.0,691.0 728.0,691.8 729.0,692.5 730.0,693.3 731.0,694.0 732.7,695.0 733.3,580.0 733.7,544.9 734.2,520.0 734.7,509.3 735.5,500.0 735.7,498.7 736.7,493.9 737.7,490.8 738.0,490.0 738.7,488.3 739.7,486.2 740.7,484.5 741.0,484.0 741.7,483.0 742.7,481.8 743.7,480.6 744.7,479.4 745.0,479.0 745.7,478.0 746.7,476.4 747.7,474.8 748.7,473.4 749.0,473.0 749.7,472.2 750.7,471.2 751.7,470.2 752.7,469.4 753.7,468.5 754.7,467.6 755.7,466.7 756.4,466.0 756.7,465.7 757.7,464.6 758.7,463.4 759.7,462.1 760.7,460.8 761.7,459.5 762.7,458.2 763.7,457.0 764.7,455.8 765.7,454.6 766.7,453.6 767.7,452.7 767.9,452.5 768.7,451.9 769.7,451.1 770.7,450.4 771.7,449.8 772.7,449.2 773.7,448.6 774.7,448.0 775.7,447.3 776.7,446.7 777.0,446.5 777.7,446.0 778.7,445.4 779.7,444.7 780.7,444.0 781.7,443.3 782.7,442.7 783.7,441.9 784.7,441.2 785.0,441.0 785.7,440.5 786.7,439.7 787.7,438.8 788.7,438.0 789.7,437.1 790.7,436.3 791.7,435.4 792.7,434.7 793.6,434.0 793.7,433.9 794.7,433.3 795.7,432.6 796.7,432.0 797.7,431.4 798.7,430.8 799.7,430.2 800.0,430.0 800.7,429.6 801.7,429.0 802.7,428.5 803.7,428.0 804.7,427.4 805.7,426.8 806.7,426.1 807.7,425.2 807.9,425.0 808.7,424.0 809.7,422.3 810.7,420.5 811.0,420.0 812.4,418.0 813.0,540.0 813.4,586.0 814.0,624.0 814.4,628.2 815.4,633.6 815.5,634.0 816.4,637.5 817.4,640.6 818.4,643.2 819.4,645.4 819.7,646.0 820.4,647.4 821.4,649.4 822.4,651.3 823.4,653.0 824.4,654.7 825.4,656.3 826.4,657.9 827.4,659.3 828.4,660.7 829.4,662.1 830.4,663.4 831.4,664.7 832.4,666.0 833.4,667.2 834.4,668.4 835.4,669.6 835.7,670.0 836.4,670.8 837.4,672.0 838.4,673.2 839.4,674.3 840.4,675.4 841.4,676.5 842.4,677.5 843.4,678.5 844.4,679.5 845.4,680.5 846.4,681.5 847.4,682.5 848.4,683.4 849.4,684.4 850.4,685.3 851.4,686.2 852.4,687.2 853.4,688.1 854.4,689.0 855.4,690.0 856.4,690.9 857.4,691.9 858.4,692.8 858.6,693.0 859.4,693.8 860.4,694.7 861.4,695.6 862.4,696.6 863.4,697.5 864.4,698.4 865.4,699.3 866.4,700.2 867.4,701.1 868.4,701.9 869.4,702.8 870.4,703.7 871.4,704.6 872.4,705.5 873.4,706.4 874.4,707.3 875.4,708.2 876.4,709.2 877.4,710.1 878.4,711.1 879.4,712.0 880.4,713.0 881.4,714.0 882.4,715.0 883.4,716.1 884.4,717.2 885.4,718.3 886.4,719.4 887.4,720.5 888.4,721.6 889.4,722.7 890.4,723.8 890.6,724.0 891.4,724.8 892.4,725.9 893.4,726.9 894.4,727.9 894.5,728.0 896.5,729.0 897.1,620.0 897.5,585.1 898.0,560.0 898.5,549.5 899.5,538.0 900.5,531.5 901.5,527.0 902.0,525.0 902.5,523.0 903.5,519.3 904.5,516.3 905.0,515.0 905.5,513.9 906.5,511.8 907.5,509.9 908.5,508.2 909.5,506.6 910.5,505.1 911.5,503.7 912.5,502.4 913.5,501.1 914.5,499.7 915.0,499.0 915.5,498.3 916.5,496.9 917.5,495.5 918.5,494.2 919.5,492.9 920.5,491.6 921.5,490.4 922.5,489.2 923.5,488.1 924.5,487.0 925.0,486.5 925.5,486.0 926.5,485.0 927.5,484.1 928.5,483.2 929.5,482.3 930.5,481.5 931.5,480.7 932.5,479.9 933.5,479.1 934.5,478.4 935.0,478.0 935.5,477.6 936.5,477.0 937.5,476.3 938.5,475.7 939.5,475.1 940.5,474.5 941.5,473.9 942.5,473.3 943.5,472.7 944.5,472.2 945.5,471.6 946.5,471.0 947.5,470.3 948.0,470.0 948.5,469.7 949.5,469.0 950.5,468.3 951.5,467.6 952.5,466.9 953.5,466.2 954.5,465.5 955.5,464.8 956.5,464.1 956.6,464.0 957.5,463.4 958.5,462.7 959.5,462.0 960.5,461.3 961.5,460.7 962.5,459.9 963.5,459.2 964.5,458.4 965.0,458.0 965.5,457.6 966.5,456.6 967.5,455.6 968.5,454.5 969.5,453.5 970.5,452.5 971.0,452.0 971.5,451.5 972.5,450.7 973.5,449.8 974.5,449.0 976.4,446.0 977.0,560.0 977.4,610.9 978.0,655.0 978.4,659.5 979.4,665.6 980.0,668.0 980.4,669.7 981.4,673.4 982.4,676.5 983.4,679.1 984.3,681.0 984.4,681.2 985.4,682.9 986.4,684.5 987.4,685.9 988.4,687.2 989.4,688.4 990.4,689.5 991.4,690.6 992.4,691.6 993.4,692.6 994.4,693.6 995.4,694.7 995.7,695.0 996.4,695.8 997.4,696.8 998.4,697.9 999.4,698.9 1000.4,699.9 1001.4,700.9 1002.4,701.9 1003.4,702.9 1004.4,703.9 1005.4,704.8 1006.4,705.8 1007.4,706.7 1008.4,707.7 1009.4,708.6 1010.4,709.5 1011.4,710.4 1012.4,711.3 1013.4,712.3 1014.4,713.2 1015.4,714.1 1016.4,715.0 1017.4,715.9 1018.4,716.8 1018.6,717.0 1019.4,717.7 1020.4,718.6 1021.4,719.5 1022.4,720.4 1023.4,721.3 1024.4,722.2 1025.4,723.0 1026.4,723.9 1027.4,724.8 1028.4,725.6 1029.4,726.5 1030.4,727.3 1031.4,728.2 1032.4,729.1 1033.4,729.9 1034.4,730.8 1035.4,731.6 1036.4,732.5 1037.4,733.4 1038.4,734.3 1039.4,735.2 1040.4,736.1 1041.4,737.0 1042.4,737.9 1043.4,738.7 1044.4,739.5 1045.4,740.3 1046.4,741.1 1047.4,741.9 1048.4,742.8 1049.4,743.7 1050.4,744.6 1051.4,745.6 1052.4,746.7 1053.4,747.9 1054.4,749.2 1055.0,750.0 1055.4,750.7 1056.0,752.0 1057.0,760.0 1057.6,626.0 1058.0,612.0" fill="none" stroke="#ff0000" stroke-width="7" stroke-linejoin="round" stroke-linecap="round"/>
</g>
<line x1="194.5" y1="64.9" x2="283.3" y2="64.9" stroke="#454545" stroke-width="6.5" stroke-linecap="round"/>
<line x1="195.5" y1="109.7" x2="283.8" y2="109.7" stroke="#ff0000" stroke-width="7" stroke-linecap="round"/>
<text transform="translate(293.33 81.10) scale(0.8240 1)" font-size="47.38" font-weight="normal" fill="#000">BT/BBT</text>
<text transform="translate(293.33 124.80) scale(0.8511 1)" font-size="45.85" font-weight="normal" fill="#000">BT/BBT-0.1</text>
<text transform="translate(10.66 98.19) scale(1.0382 1)" font-size="87.67" font-weight="bold" fill="#000">(a)</text>
<text transform="translate(96.09 623.11) rotate(-90) scale(1.1827 1)" font-size="59.56" font-weight="bold" fill="#000">Intensity (a.u.)</text>
<text transform="translate(452.97 1007.90) scale(0.8526 1)" font-size="71.89" font-weight="bold" fill="#000">Time (sec)</text>
<text transform="translate(151.59 911.21) scale(0.8500 1)" font-size="54.63" font-weight="bold" fill="#000">0</text>
<text transform="translate(302.28 911.21) scale(0.8500 1)" font-size="54.63" font-weight="bold" fill="#000">40</text>
<text transform="translate(464.02 911.21) scale(0.8500 1)" font-size="54.63" font-weight="bold" fill="#000">80</text>
<text transform="translate(617.75 911.21) scale(0.8500 1)" font-size="54.63" font-weight="bold" fill="#000">120</text>
<text transform="translate(781.15 911.21) scale(0.8500 1)" font-size="54.63" font-weight="bold" fill="#000">160</text>
<text transform="translate(942.78 911.21) scale(0.8500 1)" font-size="54.63" font-weight="bold" fill="#000">200</text>
<rect x="1437.5" y="15.6" width="922.8" height="835.5" fill="none" stroke="#000" stroke-width="4.8"/>
<line x1="1435.1" y1="851.1" x2="2362.7000000000003" y2="851.1" stroke="#000" stroke-width="5.2"/>
<line x1="1437.5" y1="15.6" x2="1437.5" y2="851.1" stroke="#000" stroke-width="4.8"/>
<line x1="1437.5" y1="851.1" x2="1437.5" y2="866.6" stroke="#000" stroke-width="4.8"/>
<line x1="1540.0" y1="851.1" x2="1540.0" y2="858.1" stroke="#000" stroke-width="4.8"/>
<line x1="1642.6" y1="851.1" x2="1642.6" y2="866.6" stroke="#000" stroke-width="4.8"/>
<line x1="1745.1" y1="851.1" x2="1745.1" y2="858.1" stroke="#000" stroke-width="4.8"/>
<line x1="1847.6" y1="851.1" x2="1847.6" y2="866.6" stroke="#000" stroke-width="4.8"/>
<line x1="1950.2" y1="851.1" x2="1950.2" y2="858.1" stroke="#000" stroke-width="4.8"/>
<line x1="2052.7" y1="851.1" x2="2052.7" y2="866.6" stroke="#000" stroke-width="4.8"/>
<line x1="2155.2" y1="851.1" x2="2155.2" y2="858.1" stroke="#000" stroke-width="4.8"/>
<line x1="2257.8" y1="851.1" x2="2257.8" y2="866.6" stroke="#000" stroke-width="4.8"/>
<line x1="2360.3" y1="851.1" x2="2360.3" y2="858.1" stroke="#000" stroke-width="4.8"/>
<line x1="1437.5" y1="851.1" x2="1422.5" y2="851.1" stroke="#000" stroke-width="5"/>
<line x1="1437.5" y1="725.8" x2="1430.0" y2="725.8" stroke="#000" stroke-width="5"/>
<line x1="1437.5" y1="600.4" x2="1422.5" y2="600.4" stroke="#000" stroke-width="5"/>
<line x1="1437.5" y1="475.1" x2="1430.0" y2="475.1" stroke="#000" stroke-width="5"/>
<line x1="1437.5" y1="349.8" x2="1422.5" y2="349.8" stroke="#000" stroke-width="5"/>
<line x1="1437.5" y1="224.4" x2="1430.0" y2="224.4" stroke="#000" stroke-width="5"/>
<line x1="1437.5" y1="99.1" x2="1422.5" y2="99.1" stroke="#000" stroke-width="5"/>
<defs><clipPath id="cb"><rect x="1437.5" y="15.6" width="922.8" height="835.5"/></clipPath></defs>
<g clip-path="url(#cb)">
<rect x="1433.4" y="770.0" width="16.2" height="18" fill="#505050"/>
<rect x="1434.4" y="752.5" width="16.2" height="18" fill="#505050"/>
<rect x="1436.4" y="733.5" width="16.2" height="18" fill="#505050"/>
<rect x="1438.1" y="711.1" width="16.2" height="18" fill="#505050"/>
<rect x="1442.2" y="684.3" width="16.2" height="18" fill="#505050"/>
<rect x="1447.6" y="652.4" width="16.2" height="18" fill="#505050"/>
<rect x="1456.0" y="615.0" width="16.2" height="18" fill="#505050"/>
<rect x="1467.9" y="572.2" width="16.2" height="18" fill="#505050"/>
<rect x="1484.7" y="522.2" width="16.2" height="18" fill="#505050"/>
<rect x="1507.9" y="467.8" width="16.2" height="18" fill="#505050"/>
<rect x="1539.1" y="409.8" width="16.2" height="18" fill="#505050"/>
<rect x="1579.9" y="351.8" width="16.2" height="18" fill="#505050"/>
<rect x="1631.9" y="299.0" width="16.2" height="18" fill="#505050"/>
<rect x="1693.1" y="257.8" width="16.2" height="18" fill="#505050"/>
<rect x="1761.9" y="233.8" width="16.2" height="18" fill="#505050"/>
<rect x="1833.9" y="231.8" width="16.2" height="18" fill="#505050"/>
<rect x="1903.9" y="251.8" width="16.2" height="18" fill="#505050"/>
<rect x="1966.7" y="290.2" width="16.2" height="18" fill="#505050"/>
<rect x="2020.3" y="341.0" width="16.2" height="18" fill="#505050"/>
<rect x="2063.1" y="398.2" width="16.2" height="18" fill="#505050"/>
<rect x="2095.9" y="456.6" width="16.2" height="18" fill="#505050"/>
<rect x="2120.7" y="512.2" width="16.2" height="18" fill="#505050"/>
<rect x="2139.1" y="563.0" width="16.2" height="18" fill="#505050"/>
<rect x="2151.1" y="607.0" width="16.2" height="18" fill="#505050"/>
<ellipse cx="1519.0" cy="698.6" rx="8.4" ry="9.8" fill="#f44040"/>
<ellipse cx="1537.1" cy="698.0" rx="8.4" ry="9.8" fill="#f44040"/>
<ellipse cx="1554.8" cy="702.5" rx="8.4" ry="9.8" fill="#f44040"/>
<ellipse cx="1570.9" cy="712.0" rx="8.4" ry="9.8" fill="#f44040"/>
<ellipse cx="1584.3" cy="724.6" rx="8.4" ry="9.8" fill="#f44040"/>
<ellipse cx="1595.3" cy="738.7" rx="8.4" ry="9.8" fill="#f44040"/>
<ellipse cx="1603.6" cy="753.2" rx="8.4" ry="9.8" fill="#f44040"/>
<ellipse cx="1610.0" cy="766.7" rx="8.4" ry="9.8" fill="#f44040"/>
<ellipse cx="1614.8" cy="779.4" rx="8.4" ry="9.8" fill="#f44040"/>
<ellipse cx="1502.3" cy="705.2" rx="8.4" ry="9.8" fill="#f44040"/>
<ellipse cx="1487.4" cy="715.3" rx="8.4" ry="9.8" fill="#f44040"/>
<ellipse cx="1474.6" cy="728.7" rx="8.4" ry="9.8" fill="#f44040"/>
<ellipse cx="1464.2" cy="743.6" rx="8.4" ry="9.8" fill="#f44040"/>
<ellipse cx="1456.7" cy="757.2" rx="8.4" ry="9.8" fill="#f44040"/>
<ellipse cx="1449.8" cy="770.8" rx="8.4" ry="9.8" fill="#f44040"/>
<ellipse cx="1448.2" cy="783.0" rx="8.4" ry="9.8" fill="#f44040"/>
<ellipse cx="1446.0" cy="790.9" rx="8.4" ry="9.8" fill="#f44040"/>
<ellipse cx="1444.1" cy="798.8" rx="8.4" ry="9.8" fill="#f44040"/>
<ellipse cx="1442.6" cy="806.6" rx="8.4" ry="9.8" fill="#f44040"/>
<ellipse cx="1441.3" cy="814.5" rx="8.4" ry="9.8" fill="#f44040"/>
<ellipse cx="1440.2" cy="822.4" rx="8.4" ry="9.8" fill="#f44040"/>
<ellipse cx="1439.5" cy="830.2" rx="8.4" ry="9.8" fill="#f44040"/>
<ellipse cx="1438.9" cy="838.1" rx="8.4" ry="9.8" fill="#f44040"/>
<ellipse cx="1438.7" cy="846.0" rx="8.4" ry="9.8" fill="#f44040"/>
<ellipse cx="1618.6" cy="790.0" rx="8.4" ry="9.8" fill="#f44040"/>
<ellipse cx="1620.4" cy="797.4" rx="8.4" ry="9.8" fill="#f44040"/>
<ellipse cx="1621.9" cy="804.9" rx="8.4" ry="9.8" fill="#f44040"/>
<ellipse cx="1623.2" cy="812.3" rx="8.4" ry="9.8" fill="#f44040"/>
<ellipse cx="1624.3" cy="819.7" rx="8.4" ry="9.8" fill="#f44040"/>
<ellipse cx="1625.1" cy="827.1" rx="8.4" ry="9.8" fill="#f44040"/>
<ellipse cx="1625.7" cy="834.6" rx="8.4" ry="9.8" fill="#f44040"/>
<ellipse cx="1626.0" cy="842.0" rx="8.4" ry="9.8" fill="#f44040"/>
<ellipse cx="1625.5" cy="850.5" rx="8.4" ry="9.8" fill="#f44040"/>
<ellipse cx="1441.0" cy="851.0" rx="8.4" ry="9.8" fill="#f44040"/>
</g>
<rect x="2035.3" y="108.3" width="16.6" height="18" fill="#505050"/>
<ellipse cx="2043.5" cy="171" rx="8.7" ry="10" fill="#f44040"/>
<text transform="translate(2096.44 132.00) scale(0.8637 1)" font-size="44.77" font-weight="normal" fill="#000">BT/BBT</text>
<text transform="translate(2086.33 185.70) scale(0.8593 1)" font-size="45.38" font-weight="normal" fill="#000">BT/BBT-0.1</text>
<text transform="translate(1108.57 98.05) scale(1.0503 1)" font-size="86.44" font-weight="bold" fill="#000">(b)</text>
<text transform="translate(1244.29 114.67) scale(1.0096 1)" font-size="51.64" font-weight="bold" fill="#000">−45,000</text>
<text transform="translate(1244.29 365.57) scale(1.0096 1)" font-size="51.64" font-weight="bold" fill="#000">−30,000</text>
<text transform="translate(1244.29 616.47) scale(1.0096 1)" font-size="51.64" font-weight="bold" fill="#000">−15,000</text>
<text transform="translate(1389.55 865.48) scale(0.9023 1)" font-size="51.19" font-weight="bold" fill="#000">0</text>
<text transform="translate(1425.29 917.68) scale(0.9348 1)" font-size="51.19" font-weight="bold" fill="#000">0</text>
<text transform="translate(1565.40 909.87) scale(1.0227 1)" font-size="51.34" font-weight="bold" fill="#000">20,000</text>
<text transform="translate(1771.89 909.58) scale(1.0035 1)" font-size="51.04" font-weight="bold" fill="#000">40,000</text>
<text transform="translate(1977.65 909.58) scale(1.0110 1)" font-size="51.04" font-weight="bold" fill="#000">60,000</text>
<text transform="translate(2181.85 909.58) scale(1.0110 1)" font-size="51.04" font-weight="bold" fill="#000">80,000</text>
<text transform="translate(1778.42 1019.00) scale(0.9179 1)" font-size="69.38" font-weight="bold" fill="#000">Z' (ohm)</text>
<text transform="translate(1218.14 541.41) rotate(-90) scale(1.1559 1)" font-size="60.78" font-weight="bold" fill="#000">Z&quot; (ohm)</text>
</svg>
</body></html>
